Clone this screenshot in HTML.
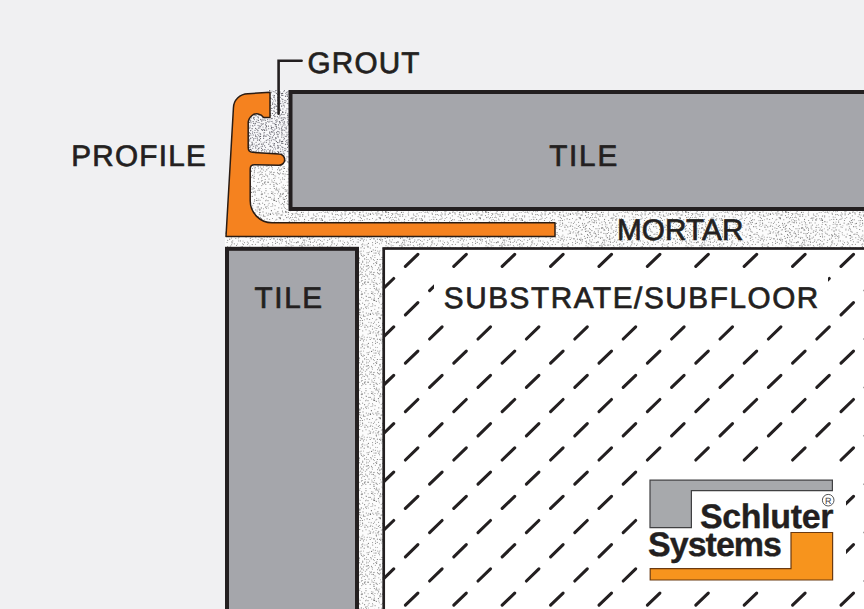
<!DOCTYPE html>
<html><head><meta charset="utf-8"><style>
html,body{margin:0;padding:0;background:#f0f0f2;}
svg{display:block;}
text{text-rendering:geometricPrecision;font-family:"Liberation Sans",sans-serif;fill:#231f20;}
</style></head><body>
<svg width="864" height="609" viewBox="0 0 864 609">
<defs>
<pattern id="st" patternUnits="userSpaceOnUse" width="100" height="100">
<rect width="100" height="100" fill="#fcfcfc"/>
<circle cx="1.1" cy="1.8" r="0.55" fill="#888888"/><circle cx="3.2" cy="-99.6" r="0.6" fill="#888888"/><circle cx="3.2" cy="0.4" r="0.6" fill="#888888"/><circle cx="3.2" cy="100.4" r="0.6" fill="#888888"/><circle cx="5.6" cy="-99.8" r="0.55" fill="#707070"/><circle cx="5.6" cy="0.2" r="0.55" fill="#707070"/><circle cx="5.6" cy="100.2" r="0.55" fill="#707070"/><circle cx="9.4" cy="-99.9" r="0.55" fill="#888888"/><circle cx="9.4" cy="0.1" r="0.55" fill="#888888"/><circle cx="9.4" cy="100.1" r="0.55" fill="#888888"/><circle cx="11.2" cy="-99.7" r="0.5" fill="#9a9a9a"/><circle cx="11.2" cy="0.3" r="0.5" fill="#9a9a9a"/><circle cx="11.2" cy="100.3" r="0.5" fill="#9a9a9a"/><circle cx="17.2" cy="1.6" r="0.55" fill="#888888"/><circle cx="18.4" cy="-99.5" r="0.55" fill="#888888"/><circle cx="18.4" cy="0.5" r="0.55" fill="#888888"/><circle cx="18.4" cy="100.5" r="0.55" fill="#888888"/><circle cx="24.8" cy="1.1" r="0.5" fill="#9a9a9a"/><circle cx="29.0" cy="-99.9" r="0.6" fill="#707070"/><circle cx="29.0" cy="0.1" r="0.6" fill="#707070"/><circle cx="29.0" cy="100.1" r="0.6" fill="#707070"/><circle cx="31.7" cy="-99.2" r="0.5" fill="#9a9a9a"/><circle cx="31.7" cy="0.8" r="0.5" fill="#9a9a9a"/><circle cx="31.7" cy="100.8" r="0.5" fill="#9a9a9a"/><circle cx="36.9" cy="2.0" r="0.55" fill="#888888"/><circle cx="41.6" cy="-99.5" r="0.5" fill="#888888"/><circle cx="41.6" cy="0.5" r="0.5" fill="#888888"/><circle cx="41.6" cy="100.5" r="0.5" fill="#888888"/><circle cx="45.5" cy="-99.8" r="0.5" fill="#9a9a9a"/><circle cx="45.5" cy="0.2" r="0.5" fill="#9a9a9a"/><circle cx="45.5" cy="100.2" r="0.5" fill="#9a9a9a"/><circle cx="50.4" cy="1.1" r="0.55" fill="#9a9a9a"/><circle cx="54.3" cy="1.3" r="0.5" fill="#888888"/><circle cx="56.4" cy="-99.5" r="0.6" fill="#888888"/><circle cx="56.4" cy="0.5" r="0.6" fill="#888888"/><circle cx="56.4" cy="100.5" r="0.6" fill="#888888"/><circle cx="58.0" cy="-99.6" r="0.6" fill="#9a9a9a"/><circle cx="58.0" cy="0.4" r="0.6" fill="#9a9a9a"/><circle cx="58.0" cy="100.4" r="0.6" fill="#9a9a9a"/><circle cx="60.1" cy="-99.7" r="0.55" fill="#888888"/><circle cx="60.1" cy="0.3" r="0.55" fill="#888888"/><circle cx="60.1" cy="100.3" r="0.55" fill="#888888"/><circle cx="65.7" cy="-99.2" r="0.5" fill="#707070"/><circle cx="65.7" cy="0.8" r="0.5" fill="#707070"/><circle cx="65.7" cy="100.8" r="0.5" fill="#707070"/><circle cx="68.0" cy="-99.3" r="0.6" fill="#888888"/><circle cx="68.0" cy="0.7" r="0.6" fill="#888888"/><circle cx="68.0" cy="100.7" r="0.6" fill="#888888"/><circle cx="73.7" cy="-99.7" r="0.55" fill="#707070"/><circle cx="73.7" cy="0.3" r="0.55" fill="#707070"/><circle cx="73.7" cy="100.3" r="0.55" fill="#707070"/><circle cx="74.6" cy="-99.5" r="0.6" fill="#707070"/><circle cx="74.6" cy="0.5" r="0.6" fill="#707070"/><circle cx="74.6" cy="100.5" r="0.6" fill="#707070"/><circle cx="76.3" cy="1.3" r="0.6" fill="#707070"/><circle cx="78.8" cy="-99.0" r="0.5" fill="#888888"/><circle cx="78.8" cy="1.0" r="0.5" fill="#888888"/><circle cx="78.8" cy="101.0" r="0.5" fill="#888888"/><circle cx="84.5" cy="1.5" r="0.55" fill="#888888"/><circle cx="87.8" cy="-99.0" r="0.6" fill="#707070"/><circle cx="87.8" cy="1.0" r="0.6" fill="#707070"/><circle cx="87.8" cy="101.0" r="0.6" fill="#707070"/><circle cx="90.0" cy="-99.7" r="0.55" fill="#9a9a9a"/><circle cx="90.0" cy="0.3" r="0.55" fill="#9a9a9a"/><circle cx="90.0" cy="100.3" r="0.55" fill="#9a9a9a"/><circle cx="91.2" cy="-99.9" r="0.5" fill="#707070"/><circle cx="91.2" cy="0.1" r="0.5" fill="#707070"/><circle cx="91.2" cy="100.1" r="0.5" fill="#707070"/><circle cx="92.1" cy="-99.2" r="0.5" fill="#707070"/><circle cx="92.1" cy="0.8" r="0.5" fill="#707070"/><circle cx="92.1" cy="100.8" r="0.5" fill="#707070"/><circle cx="-0.1" cy="-99.8" r="0.5" fill="#888888"/><circle cx="-0.1" cy="0.2" r="0.5" fill="#888888"/><circle cx="-0.1" cy="100.2" r="0.5" fill="#888888"/><circle cx="99.9" cy="-99.8" r="0.5" fill="#888888"/><circle cx="99.9" cy="0.2" r="0.5" fill="#888888"/><circle cx="99.9" cy="100.2" r="0.5" fill="#888888"/><circle cx="199.9" cy="-99.8" r="0.5" fill="#888888"/><circle cx="199.9" cy="0.2" r="0.5" fill="#888888"/><circle cx="199.9" cy="100.2" r="0.5" fill="#888888"/><circle cx="1.3" cy="3.4" r="0.6" fill="#707070"/><circle cx="3.8" cy="2.9" r="0.55" fill="#9a9a9a"/><circle cx="8.1" cy="2.1" r="0.55" fill="#888888"/><circle cx="14.7" cy="2.1" r="0.6" fill="#9a9a9a"/><circle cx="17.6" cy="3.8" r="0.55" fill="#707070"/><circle cx="19.8" cy="3.7" r="0.55" fill="#707070"/><circle cx="21.1" cy="3.2" r="0.55" fill="#888888"/><circle cx="23.2" cy="2.2" r="0.6" fill="#707070"/><circle cx="25.8" cy="3.5" r="0.55" fill="#9a9a9a"/><circle cx="26.9" cy="2.9" r="0.6" fill="#707070"/><circle cx="29.0" cy="2.6" r="0.5" fill="#888888"/><circle cx="32.2" cy="3.6" r="0.6" fill="#888888"/><circle cx="40.4" cy="2.3" r="0.55" fill="#9a9a9a"/><circle cx="43.0" cy="2.5" r="0.55" fill="#9a9a9a"/><circle cx="47.6" cy="3.5" r="0.5" fill="#707070"/><circle cx="50.6" cy="2.3" r="0.55" fill="#888888"/><circle cx="53.7" cy="3.4" r="0.55" fill="#707070"/><circle cx="57.9" cy="3.7" r="0.55" fill="#9a9a9a"/><circle cx="59.3" cy="3.4" r="0.6" fill="#888888"/><circle cx="62.6" cy="3.2" r="0.6" fill="#9a9a9a"/><circle cx="69.1" cy="3.3" r="0.55" fill="#888888"/><circle cx="72.5" cy="3.6" r="0.5" fill="#9a9a9a"/><circle cx="79.3" cy="2.7" r="0.5" fill="#9a9a9a"/><circle cx="82.5" cy="3.4" r="0.55" fill="#9a9a9a"/><circle cx="84.4" cy="2.5" r="0.55" fill="#9a9a9a"/><circle cx="87.0" cy="3.2" r="0.5" fill="#888888"/><circle cx="89.4" cy="2.4" r="0.55" fill="#9a9a9a"/><circle cx="92.4" cy="3.8" r="0.5" fill="#888888"/><circle cx="95.3" cy="3.0" r="0.55" fill="#888888"/><circle cx="98.2" cy="3.7" r="0.6" fill="#9a9a9a"/><circle cx="11.9" cy="4.5" r="0.6" fill="#707070"/><circle cx="17.1" cy="5.5" r="0.55" fill="#707070"/><circle cx="20.9" cy="4.1" r="0.6" fill="#888888"/><circle cx="23.8" cy="4.9" r="0.6" fill="#9a9a9a"/><circle cx="25.4" cy="4.9" r="0.55" fill="#9a9a9a"/><circle cx="26.2" cy="4.4" r="0.6" fill="#9a9a9a"/><circle cx="31.3" cy="5.0" r="0.6" fill="#888888"/><circle cx="37.8" cy="4.4" r="0.5" fill="#9a9a9a"/><circle cx="39.1" cy="4.4" r="0.6" fill="#707070"/><circle cx="41.2" cy="4.1" r="0.5" fill="#9a9a9a"/><circle cx="43.1" cy="6.0" r="0.5" fill="#888888"/><circle cx="48.9" cy="5.8" r="0.55" fill="#888888"/><circle cx="52.7" cy="5.8" r="0.55" fill="#9a9a9a"/><circle cx="59.9" cy="4.3" r="0.5" fill="#707070"/><circle cx="64.6" cy="4.7" r="0.6" fill="#888888"/><circle cx="68.2" cy="5.0" r="0.55" fill="#9a9a9a"/><circle cx="72.9" cy="4.8" r="0.55" fill="#9a9a9a"/><circle cx="75.1" cy="5.7" r="0.6" fill="#9a9a9a"/><circle cx="81.2" cy="4.3" r="0.6" fill="#9a9a9a"/><circle cx="83.8" cy="4.6" r="0.55" fill="#707070"/><circle cx="87.8" cy="4.3" r="0.5" fill="#707070"/><circle cx="88.5" cy="4.2" r="0.55" fill="#9a9a9a"/><circle cx="90.3" cy="4.8" r="0.6" fill="#707070"/><circle cx="94.7" cy="5.6" r="0.55" fill="#707070"/><circle cx="97.3" cy="4.7" r="0.6" fill="#707070"/><circle cx="99.0" cy="4.0" r="0.6" fill="#9a9a9a"/><circle cx="1.1" cy="6.3" r="0.5" fill="#707070"/><circle cx="6.0" cy="7.9" r="0.5" fill="#9a9a9a"/><circle cx="8.9" cy="7.5" r="0.55" fill="#888888"/><circle cx="11.0" cy="6.9" r="0.6" fill="#888888"/><circle cx="15.7" cy="6.4" r="0.55" fill="#888888"/><circle cx="16.8" cy="6.4" r="0.5" fill="#707070"/><circle cx="18.0" cy="7.8" r="0.6" fill="#9a9a9a"/><circle cx="21.1" cy="6.4" r="0.6" fill="#888888"/><circle cx="22.5" cy="7.8" r="0.6" fill="#9a9a9a"/><circle cx="25.6" cy="6.8" r="0.55" fill="#9a9a9a"/><circle cx="27.5" cy="7.5" r="0.55" fill="#707070"/><circle cx="28.1" cy="6.7" r="0.55" fill="#707070"/><circle cx="35.2" cy="6.5" r="0.6" fill="#888888"/><circle cx="39.1" cy="7.1" r="0.55" fill="#9a9a9a"/><circle cx="41.3" cy="7.4" r="0.55" fill="#9a9a9a"/><circle cx="45.5" cy="6.5" r="0.55" fill="#9a9a9a"/><circle cx="57.1" cy="7.0" r="0.6" fill="#9a9a9a"/><circle cx="58.2" cy="6.9" r="0.6" fill="#707070"/><circle cx="61.3" cy="7.9" r="0.55" fill="#707070"/><circle cx="65.7" cy="7.1" r="0.6" fill="#707070"/><circle cx="67.0" cy="6.6" r="0.55" fill="#9a9a9a"/><circle cx="71.0" cy="6.5" r="0.55" fill="#9a9a9a"/><circle cx="72.6" cy="6.0" r="0.5" fill="#9a9a9a"/><circle cx="78.8" cy="7.8" r="0.6" fill="#888888"/><circle cx="83.9" cy="6.1" r="0.5" fill="#888888"/><circle cx="84.5" cy="7.5" r="0.5" fill="#9a9a9a"/><circle cx="89.8" cy="6.3" r="0.5" fill="#9a9a9a"/><circle cx="90.1" cy="6.8" r="0.5" fill="#707070"/><circle cx="92.7" cy="6.3" r="0.55" fill="#888888"/><circle cx="97.2" cy="7.3" r="0.6" fill="#888888"/><circle cx="1.6" cy="8.3" r="0.55" fill="#9a9a9a"/><circle cx="5.0" cy="8.6" r="0.6" fill="#9a9a9a"/><circle cx="6.5" cy="9.2" r="0.6" fill="#9a9a9a"/><circle cx="8.4" cy="8.6" r="0.5" fill="#707070"/><circle cx="11.0" cy="9.3" r="0.5" fill="#9a9a9a"/><circle cx="19.2" cy="8.2" r="0.6" fill="#888888"/><circle cx="25.1" cy="9.3" r="0.55" fill="#888888"/><circle cx="26.4" cy="8.7" r="0.6" fill="#707070"/><circle cx="28.1" cy="8.2" r="0.6" fill="#707070"/><circle cx="31.5" cy="8.8" r="0.5" fill="#888888"/><circle cx="35.2" cy="8.6" r="0.6" fill="#707070"/><circle cx="36.7" cy="8.2" r="0.55" fill="#707070"/><circle cx="38.9" cy="9.1" r="0.6" fill="#888888"/><circle cx="42.2" cy="8.4" r="0.6" fill="#9a9a9a"/><circle cx="49.4" cy="8.6" r="0.5" fill="#707070"/><circle cx="52.7" cy="8.2" r="0.6" fill="#888888"/><circle cx="55.8" cy="9.9" r="0.55" fill="#888888"/><circle cx="58.0" cy="8.9" r="0.5" fill="#888888"/><circle cx="59.5" cy="9.0" r="0.5" fill="#888888"/><circle cx="60.0" cy="9.4" r="0.6" fill="#888888"/><circle cx="63.5" cy="8.7" r="0.55" fill="#9a9a9a"/><circle cx="66.4" cy="8.2" r="0.55" fill="#888888"/><circle cx="68.4" cy="8.1" r="0.5" fill="#9a9a9a"/><circle cx="74.8" cy="9.2" r="0.55" fill="#9a9a9a"/><circle cx="81.8" cy="8.2" r="0.6" fill="#9a9a9a"/><circle cx="85.3" cy="8.5" r="0.5" fill="#888888"/><circle cx="87.0" cy="9.5" r="0.55" fill="#888888"/><circle cx="91.3" cy="9.0" r="0.6" fill="#9a9a9a"/><circle cx="94.1" cy="9.5" r="0.6" fill="#888888"/><circle cx="97.6" cy="9.7" r="0.55" fill="#9a9a9a"/><circle cx="-1.0" cy="9.4" r="0.5" fill="#888888"/><circle cx="99.0" cy="9.4" r="0.5" fill="#888888"/><circle cx="199.0" cy="9.4" r="0.5" fill="#888888"/><circle cx="1.8" cy="10.5" r="0.5" fill="#9a9a9a"/><circle cx="8.6" cy="11.9" r="0.5" fill="#888888"/><circle cx="15.6" cy="10.4" r="0.5" fill="#888888"/><circle cx="19.6" cy="10.6" r="0.5" fill="#707070"/><circle cx="23.2" cy="10.9" r="0.6" fill="#707070"/><circle cx="25.8" cy="10.8" r="0.55" fill="#9a9a9a"/><circle cx="27.6" cy="11.0" r="0.55" fill="#888888"/><circle cx="29.8" cy="10.7" r="0.6" fill="#707070"/><circle cx="30.4" cy="10.1" r="0.5" fill="#888888"/><circle cx="33.6" cy="11.5" r="0.5" fill="#9a9a9a"/><circle cx="35.8" cy="11.7" r="0.55" fill="#888888"/><circle cx="37.4" cy="11.2" r="0.5" fill="#888888"/><circle cx="45.0" cy="11.3" r="0.6" fill="#888888"/><circle cx="46.1" cy="11.1" r="0.5" fill="#707070"/><circle cx="50.3" cy="10.3" r="0.55" fill="#888888"/><circle cx="53.1" cy="11.8" r="0.6" fill="#888888"/><circle cx="57.1" cy="11.0" r="0.5" fill="#707070"/><circle cx="59.8" cy="10.2" r="0.55" fill="#707070"/><circle cx="63.0" cy="11.9" r="0.55" fill="#888888"/><circle cx="71.4" cy="10.7" r="0.6" fill="#707070"/><circle cx="77.9" cy="11.7" r="0.6" fill="#888888"/><circle cx="82.5" cy="11.1" r="0.55" fill="#707070"/><circle cx="85.7" cy="11.4" r="0.6" fill="#707070"/><circle cx="90.6" cy="10.7" r="0.55" fill="#9a9a9a"/><circle cx="92.5" cy="10.4" r="0.6" fill="#707070"/><circle cx="97.1" cy="11.4" r="0.55" fill="#888888"/><circle cx="98.2" cy="10.3" r="0.5" fill="#707070"/><circle cx="1.4" cy="12.4" r="0.55" fill="#707070"/><circle cx="3.2" cy="12.2" r="0.5" fill="#707070"/><circle cx="8.1" cy="13.8" r="0.55" fill="#9a9a9a"/><circle cx="17.0" cy="13.8" r="0.6" fill="#707070"/><circle cx="19.2" cy="12.6" r="0.5" fill="#9a9a9a"/><circle cx="21.1" cy="12.5" r="0.5" fill="#888888"/><circle cx="25.1" cy="12.4" r="0.55" fill="#888888"/><circle cx="27.2" cy="12.3" r="0.6" fill="#888888"/><circle cx="28.7" cy="13.0" r="0.5" fill="#9a9a9a"/><circle cx="32.0" cy="13.0" r="0.6" fill="#9a9a9a"/><circle cx="32.4" cy="13.9" r="0.6" fill="#9a9a9a"/><circle cx="41.4" cy="12.7" r="0.55" fill="#888888"/><circle cx="42.2" cy="13.9" r="0.5" fill="#707070"/><circle cx="45.1" cy="13.1" r="0.6" fill="#888888"/><circle cx="49.8" cy="12.7" r="0.5" fill="#707070"/><circle cx="50.0" cy="13.4" r="0.55" fill="#707070"/><circle cx="52.7" cy="12.3" r="0.6" fill="#9a9a9a"/><circle cx="54.9" cy="12.8" r="0.6" fill="#707070"/><circle cx="59.5" cy="12.8" r="0.6" fill="#9a9a9a"/><circle cx="60.0" cy="12.4" r="0.55" fill="#707070"/><circle cx="66.3" cy="13.0" r="0.55" fill="#707070"/><circle cx="68.7" cy="13.3" r="0.5" fill="#9a9a9a"/><circle cx="70.3" cy="13.9" r="0.6" fill="#707070"/><circle cx="72.8" cy="13.2" r="0.6" fill="#9a9a9a"/><circle cx="75.5" cy="13.0" r="0.55" fill="#9a9a9a"/><circle cx="76.9" cy="13.1" r="0.6" fill="#888888"/><circle cx="78.9" cy="13.8" r="0.55" fill="#707070"/><circle cx="82.9" cy="12.8" r="0.55" fill="#888888"/><circle cx="85.8" cy="12.5" r="0.55" fill="#707070"/><circle cx="86.8" cy="12.1" r="0.6" fill="#707070"/><circle cx="88.5" cy="12.6" r="0.55" fill="#707070"/><circle cx="92.0" cy="13.5" r="0.6" fill="#888888"/><circle cx="92.8" cy="13.6" r="0.5" fill="#9a9a9a"/><circle cx="95.1" cy="13.8" r="0.5" fill="#9a9a9a"/><circle cx="96.2" cy="13.1" r="0.55" fill="#707070"/><circle cx="-100.0" cy="14.3" r="0.55" fill="#888888"/><circle cx="0.0" cy="14.3" r="0.55" fill="#888888"/><circle cx="100.0" cy="14.3" r="0.55" fill="#888888"/><circle cx="2.8" cy="14.7" r="0.6" fill="#707070"/><circle cx="8.6" cy="15.0" r="0.55" fill="#707070"/><circle cx="13.4" cy="14.1" r="0.55" fill="#888888"/><circle cx="14.0" cy="15.3" r="0.6" fill="#9a9a9a"/><circle cx="18.4" cy="15.8" r="0.5" fill="#9a9a9a"/><circle cx="22.6" cy="15.8" r="0.55" fill="#9a9a9a"/><circle cx="24.7" cy="15.9" r="0.55" fill="#888888"/><circle cx="32.4" cy="14.4" r="0.5" fill="#9a9a9a"/><circle cx="35.6" cy="14.7" r="0.6" fill="#9a9a9a"/><circle cx="37.2" cy="14.5" r="0.55" fill="#707070"/><circle cx="38.6" cy="15.3" r="0.5" fill="#888888"/><circle cx="40.9" cy="15.1" r="0.6" fill="#707070"/><circle cx="45.1" cy="14.8" r="0.6" fill="#707070"/><circle cx="48.4" cy="14.4" r="0.6" fill="#9a9a9a"/><circle cx="52.3" cy="15.8" r="0.6" fill="#888888"/><circle cx="55.2" cy="14.0" r="0.55" fill="#707070"/><circle cx="59.3" cy="14.7" r="0.6" fill="#888888"/><circle cx="61.0" cy="15.0" r="0.6" fill="#9a9a9a"/><circle cx="63.5" cy="15.1" r="0.6" fill="#707070"/><circle cx="67.3" cy="15.1" r="0.55" fill="#9a9a9a"/><circle cx="68.5" cy="15.0" r="0.5" fill="#9a9a9a"/><circle cx="70.5" cy="14.4" r="0.6" fill="#707070"/><circle cx="73.7" cy="14.4" r="0.5" fill="#9a9a9a"/><circle cx="76.9" cy="14.9" r="0.55" fill="#707070"/><circle cx="81.1" cy="15.1" r="0.6" fill="#707070"/><circle cx="82.1" cy="14.9" r="0.6" fill="#888888"/><circle cx="85.5" cy="15.6" r="0.6" fill="#888888"/><circle cx="88.3" cy="14.5" r="0.5" fill="#888888"/><circle cx="91.7" cy="15.6" r="0.5" fill="#888888"/><circle cx="92.7" cy="14.4" r="0.5" fill="#707070"/><circle cx="95.5" cy="16.0" r="0.5" fill="#9a9a9a"/><circle cx="97.5" cy="14.1" r="0.5" fill="#888888"/><circle cx="98.3" cy="14.8" r="0.55" fill="#888888"/><circle cx="-99.8" cy="16.1" r="0.6" fill="#9a9a9a"/><circle cx="0.2" cy="16.1" r="0.6" fill="#9a9a9a"/><circle cx="100.2" cy="16.1" r="0.6" fill="#9a9a9a"/><circle cx="2.6" cy="16.2" r="0.5" fill="#888888"/><circle cx="5.9" cy="16.7" r="0.55" fill="#9a9a9a"/><circle cx="12.0" cy="17.5" r="0.6" fill="#9a9a9a"/><circle cx="13.8" cy="17.8" r="0.5" fill="#888888"/><circle cx="15.9" cy="16.4" r="0.55" fill="#707070"/><circle cx="22.3" cy="16.4" r="0.5" fill="#9a9a9a"/><circle cx="24.6" cy="16.9" r="0.6" fill="#9a9a9a"/><circle cx="29.1" cy="16.8" r="0.5" fill="#9a9a9a"/><circle cx="33.2" cy="17.0" r="0.6" fill="#888888"/><circle cx="35.1" cy="17.3" r="0.5" fill="#888888"/><circle cx="41.6" cy="16.3" r="0.5" fill="#9a9a9a"/><circle cx="42.2" cy="18.0" r="0.55" fill="#888888"/><circle cx="46.7" cy="17.5" r="0.6" fill="#9a9a9a"/><circle cx="58.1" cy="16.6" r="0.55" fill="#888888"/><circle cx="60.3" cy="17.4" r="0.55" fill="#888888"/><circle cx="63.3" cy="16.3" r="0.5" fill="#888888"/><circle cx="64.9" cy="16.3" r="0.6" fill="#888888"/><circle cx="79.1" cy="17.6" r="0.6" fill="#888888"/><circle cx="80.1" cy="17.7" r="0.6" fill="#9a9a9a"/><circle cx="86.7" cy="17.6" r="0.55" fill="#707070"/><circle cx="88.2" cy="17.0" r="0.55" fill="#888888"/><circle cx="90.6" cy="17.4" r="0.5" fill="#707070"/><circle cx="92.4" cy="17.5" r="0.55" fill="#9a9a9a"/><circle cx="95.0" cy="17.5" r="0.55" fill="#707070"/><circle cx="96.5" cy="17.7" r="0.55" fill="#9a9a9a"/><circle cx="-0.2" cy="16.2" r="0.5" fill="#888888"/><circle cx="99.8" cy="16.2" r="0.5" fill="#888888"/><circle cx="199.8" cy="16.2" r="0.5" fill="#888888"/><circle cx="4.6" cy="19.4" r="0.55" fill="#707070"/><circle cx="11.1" cy="18.5" r="0.6" fill="#707070"/><circle cx="12.8" cy="18.7" r="0.55" fill="#707070"/><circle cx="15.9" cy="19.5" r="0.6" fill="#707070"/><circle cx="16.8" cy="18.8" r="0.55" fill="#707070"/><circle cx="19.8" cy="18.8" r="0.55" fill="#707070"/><circle cx="21.4" cy="18.5" r="0.55" fill="#888888"/><circle cx="22.0" cy="19.2" r="0.55" fill="#707070"/><circle cx="29.9" cy="20.0" r="0.5" fill="#707070"/><circle cx="31.7" cy="19.5" r="0.5" fill="#9a9a9a"/><circle cx="33.8" cy="19.4" r="0.55" fill="#888888"/><circle cx="36.6" cy="19.4" r="0.6" fill="#888888"/><circle cx="39.9" cy="19.6" r="0.5" fill="#888888"/><circle cx="41.0" cy="19.1" r="0.55" fill="#888888"/><circle cx="45.1" cy="18.5" r="0.5" fill="#888888"/><circle cx="50.3" cy="18.1" r="0.5" fill="#707070"/><circle cx="52.6" cy="19.7" r="0.6" fill="#9a9a9a"/><circle cx="54.3" cy="19.7" r="0.55" fill="#707070"/><circle cx="61.4" cy="18.5" r="0.6" fill="#888888"/><circle cx="64.4" cy="19.7" r="0.5" fill="#9a9a9a"/><circle cx="67.1" cy="18.8" r="0.6" fill="#707070"/><circle cx="69.7" cy="19.6" r="0.5" fill="#707070"/><circle cx="72.5" cy="18.4" r="0.5" fill="#888888"/><circle cx="75.9" cy="19.9" r="0.5" fill="#888888"/><circle cx="76.8" cy="19.3" r="0.55" fill="#888888"/><circle cx="80.0" cy="18.1" r="0.6" fill="#707070"/><circle cx="80.4" cy="18.7" r="0.6" fill="#707070"/><circle cx="83.8" cy="19.7" r="0.55" fill="#707070"/><circle cx="89.7" cy="18.6" r="0.55" fill="#9a9a9a"/><circle cx="91.5" cy="20.0" r="0.55" fill="#9a9a9a"/><circle cx="93.1" cy="19.6" r="0.5" fill="#888888"/><circle cx="98.5" cy="19.0" r="0.5" fill="#707070"/><circle cx="4.3" cy="21.3" r="0.55" fill="#888888"/><circle cx="8.7" cy="20.5" r="0.5" fill="#707070"/><circle cx="12.6" cy="20.2" r="0.5" fill="#888888"/><circle cx="16.0" cy="20.4" r="0.55" fill="#888888"/><circle cx="21.1" cy="20.4" r="0.6" fill="#9a9a9a"/><circle cx="22.5" cy="20.4" r="0.55" fill="#707070"/><circle cx="24.9" cy="21.7" r="0.6" fill="#707070"/><circle cx="38.6" cy="21.0" r="0.5" fill="#707070"/><circle cx="44.5" cy="20.5" r="0.6" fill="#888888"/><circle cx="49.7" cy="21.5" r="0.5" fill="#888888"/><circle cx="51.4" cy="20.5" r="0.6" fill="#707070"/><circle cx="59.0" cy="20.6" r="0.55" fill="#9a9a9a"/><circle cx="60.7" cy="20.6" r="0.6" fill="#888888"/><circle cx="62.5" cy="20.4" r="0.5" fill="#707070"/><circle cx="89.7" cy="21.5" r="0.5" fill="#707070"/><circle cx="92.2" cy="22.0" r="0.55" fill="#888888"/><circle cx="94.4" cy="20.8" r="0.6" fill="#707070"/><circle cx="96.1" cy="20.8" r="0.55" fill="#707070"/><circle cx="-0.9" cy="20.0" r="0.6" fill="#9a9a9a"/><circle cx="99.1" cy="20.0" r="0.6" fill="#9a9a9a"/><circle cx="199.1" cy="20.0" r="0.6" fill="#9a9a9a"/><circle cx="1.8" cy="22.1" r="0.6" fill="#9a9a9a"/><circle cx="5.4" cy="22.8" r="0.6" fill="#707070"/><circle cx="9.5" cy="22.9" r="0.55" fill="#888888"/><circle cx="11.0" cy="22.8" r="0.6" fill="#9a9a9a"/><circle cx="15.1" cy="22.9" r="0.55" fill="#9a9a9a"/><circle cx="22.7" cy="22.5" r="0.6" fill="#888888"/><circle cx="27.1" cy="22.1" r="0.5" fill="#888888"/><circle cx="33.6" cy="22.3" r="0.5" fill="#707070"/><circle cx="36.0" cy="22.1" r="0.5" fill="#9a9a9a"/><circle cx="38.7" cy="22.4" r="0.5" fill="#888888"/><circle cx="44.1" cy="23.1" r="0.55" fill="#707070"/><circle cx="48.1" cy="23.7" r="0.5" fill="#707070"/><circle cx="50.4" cy="22.7" r="0.55" fill="#707070"/><circle cx="52.2" cy="22.4" r="0.55" fill="#707070"/><circle cx="55.2" cy="23.8" r="0.5" fill="#707070"/><circle cx="56.4" cy="23.3" r="0.6" fill="#707070"/><circle cx="60.0" cy="22.8" r="0.55" fill="#9a9a9a"/><circle cx="62.6" cy="23.2" r="0.6" fill="#707070"/><circle cx="68.9" cy="22.3" r="0.5" fill="#888888"/><circle cx="71.2" cy="22.7" r="0.5" fill="#707070"/><circle cx="73.4" cy="23.5" r="0.55" fill="#888888"/><circle cx="74.4" cy="22.1" r="0.55" fill="#888888"/><circle cx="78.6" cy="22.3" r="0.5" fill="#707070"/><circle cx="82.5" cy="23.2" r="0.55" fill="#707070"/><circle cx="84.6" cy="23.7" r="0.6" fill="#9a9a9a"/><circle cx="87.9" cy="22.8" r="0.6" fill="#888888"/><circle cx="88.9" cy="22.1" r="0.55" fill="#888888"/><circle cx="93.9" cy="22.6" r="0.6" fill="#707070"/><circle cx="94.5" cy="22.8" r="0.5" fill="#9a9a9a"/><circle cx="96.5" cy="22.8" r="0.55" fill="#707070"/><circle cx="-0.3" cy="23.2" r="0.6" fill="#9a9a9a"/><circle cx="99.7" cy="23.2" r="0.6" fill="#9a9a9a"/><circle cx="199.7" cy="23.2" r="0.6" fill="#9a9a9a"/><circle cx="2.2" cy="24.7" r="0.55" fill="#707070"/><circle cx="5.3" cy="24.7" r="0.5" fill="#9a9a9a"/><circle cx="6.9" cy="24.7" r="0.55" fill="#9a9a9a"/><circle cx="11.2" cy="25.9" r="0.5" fill="#888888"/><circle cx="12.5" cy="25.1" r="0.5" fill="#707070"/><circle cx="16.8" cy="25.3" r="0.5" fill="#9a9a9a"/><circle cx="18.4" cy="24.7" r="0.5" fill="#9a9a9a"/><circle cx="22.2" cy="24.3" r="0.6" fill="#9a9a9a"/><circle cx="25.5" cy="24.5" r="0.6" fill="#888888"/><circle cx="26.2" cy="24.9" r="0.5" fill="#888888"/><circle cx="29.9" cy="25.8" r="0.5" fill="#707070"/><circle cx="33.1" cy="24.2" r="0.5" fill="#888888"/><circle cx="35.1" cy="24.1" r="0.5" fill="#707070"/><circle cx="37.0" cy="24.6" r="0.55" fill="#707070"/><circle cx="40.1" cy="24.4" r="0.55" fill="#707070"/><circle cx="42.9" cy="25.7" r="0.5" fill="#9a9a9a"/><circle cx="47.0" cy="24.8" r="0.6" fill="#9a9a9a"/><circle cx="48.8" cy="24.0" r="0.5" fill="#707070"/><circle cx="51.4" cy="24.3" r="0.6" fill="#9a9a9a"/><circle cx="59.3" cy="25.7" r="0.5" fill="#888888"/><circle cx="60.2" cy="24.5" r="0.5" fill="#9a9a9a"/><circle cx="62.7" cy="25.0" r="0.6" fill="#9a9a9a"/><circle cx="65.1" cy="25.0" r="0.5" fill="#888888"/><circle cx="66.5" cy="25.2" r="0.5" fill="#888888"/><circle cx="70.8" cy="25.3" r="0.55" fill="#888888"/><circle cx="76.3" cy="24.8" r="0.55" fill="#888888"/><circle cx="79.4" cy="25.4" r="0.5" fill="#888888"/><circle cx="83.0" cy="25.1" r="0.6" fill="#707070"/><circle cx="86.2" cy="25.4" r="0.55" fill="#707070"/><circle cx="90.7" cy="24.6" r="0.6" fill="#9a9a9a"/><circle cx="98.7" cy="25.7" r="0.5" fill="#888888"/><circle cx="1.6" cy="27.9" r="0.6" fill="#888888"/><circle cx="2.6" cy="27.4" r="0.5" fill="#888888"/><circle cx="5.7" cy="26.7" r="0.55" fill="#707070"/><circle cx="7.6" cy="27.3" r="0.5" fill="#888888"/><circle cx="11.1" cy="27.9" r="0.6" fill="#9a9a9a"/><circle cx="15.5" cy="27.2" r="0.5" fill="#9a9a9a"/><circle cx="16.7" cy="27.3" r="0.5" fill="#707070"/><circle cx="18.9" cy="27.5" r="0.55" fill="#888888"/><circle cx="21.6" cy="26.9" r="0.6" fill="#9a9a9a"/><circle cx="27.3" cy="27.1" r="0.5" fill="#9a9a9a"/><circle cx="33.1" cy="27.8" r="0.5" fill="#707070"/><circle cx="35.1" cy="27.7" r="0.5" fill="#707070"/><circle cx="36.9" cy="26.1" r="0.55" fill="#888888"/><circle cx="41.0" cy="26.9" r="0.55" fill="#9a9a9a"/><circle cx="42.2" cy="27.5" r="0.5" fill="#9a9a9a"/><circle cx="49.3" cy="26.8" r="0.6" fill="#9a9a9a"/><circle cx="53.7" cy="26.7" r="0.6" fill="#707070"/><circle cx="56.0" cy="26.7" r="0.6" fill="#888888"/><circle cx="61.1" cy="26.5" r="0.5" fill="#888888"/><circle cx="64.9" cy="27.2" r="0.6" fill="#707070"/><circle cx="67.8" cy="26.9" r="0.55" fill="#707070"/><circle cx="70.2" cy="26.6" r="0.5" fill="#707070"/><circle cx="72.7" cy="26.3" r="0.55" fill="#888888"/><circle cx="74.9" cy="27.9" r="0.55" fill="#888888"/><circle cx="78.4" cy="26.4" r="0.6" fill="#9a9a9a"/><circle cx="80.2" cy="27.5" r="0.6" fill="#707070"/><circle cx="83.8" cy="27.4" r="0.55" fill="#707070"/><circle cx="85.4" cy="26.6" r="0.6" fill="#888888"/><circle cx="93.3" cy="26.6" r="0.6" fill="#707070"/><circle cx="1.9" cy="28.3" r="0.55" fill="#707070"/><circle cx="3.1" cy="28.3" r="0.5" fill="#9a9a9a"/><circle cx="4.3" cy="29.5" r="0.6" fill="#9a9a9a"/><circle cx="6.5" cy="28.1" r="0.55" fill="#9a9a9a"/><circle cx="8.5" cy="28.9" r="0.55" fill="#888888"/><circle cx="11.9" cy="29.0" r="0.6" fill="#9a9a9a"/><circle cx="16.2" cy="29.9" r="0.6" fill="#9a9a9a"/><circle cx="20.2" cy="29.1" r="0.5" fill="#707070"/><circle cx="22.6" cy="29.7" r="0.5" fill="#9a9a9a"/><circle cx="24.3" cy="28.8" r="0.5" fill="#9a9a9a"/><circle cx="27.9" cy="29.8" r="0.6" fill="#707070"/><circle cx="29.4" cy="28.2" r="0.6" fill="#888888"/><circle cx="31.9" cy="29.8" r="0.5" fill="#888888"/><circle cx="36.1" cy="29.9" r="0.6" fill="#707070"/><circle cx="45.9" cy="30.0" r="0.5" fill="#888888"/><circle cx="46.0" cy="29.0" r="0.6" fill="#9a9a9a"/><circle cx="49.8" cy="28.6" r="0.5" fill="#707070"/><circle cx="50.3" cy="29.8" r="0.5" fill="#707070"/><circle cx="56.8" cy="28.3" r="0.5" fill="#9a9a9a"/><circle cx="59.7" cy="29.5" r="0.6" fill="#707070"/><circle cx="66.0" cy="29.7" r="0.55" fill="#888888"/><circle cx="72.5" cy="29.2" r="0.6" fill="#9a9a9a"/><circle cx="76.9" cy="28.5" r="0.55" fill="#707070"/><circle cx="82.4" cy="29.8" r="0.5" fill="#707070"/><circle cx="85.2" cy="29.2" r="0.6" fill="#888888"/><circle cx="86.0" cy="28.6" r="0.5" fill="#888888"/><circle cx="89.5" cy="28.4" r="0.5" fill="#707070"/><circle cx="90.2" cy="29.5" r="0.5" fill="#888888"/><circle cx="96.0" cy="28.7" r="0.55" fill="#707070"/><circle cx="98.0" cy="28.8" r="0.5" fill="#888888"/><circle cx="-0.4" cy="28.7" r="0.5" fill="#888888"/><circle cx="99.6" cy="28.7" r="0.5" fill="#888888"/><circle cx="199.6" cy="28.7" r="0.5" fill="#888888"/><circle cx="1.1" cy="31.9" r="0.5" fill="#888888"/><circle cx="3.8" cy="30.1" r="0.5" fill="#888888"/><circle cx="4.8" cy="30.3" r="0.5" fill="#707070"/><circle cx="8.5" cy="30.6" r="0.5" fill="#707070"/><circle cx="13.9" cy="30.4" r="0.5" fill="#9a9a9a"/><circle cx="15.8" cy="31.5" r="0.6" fill="#888888"/><circle cx="19.8" cy="30.3" r="0.5" fill="#707070"/><circle cx="21.4" cy="30.2" r="0.55" fill="#707070"/><circle cx="22.5" cy="31.0" r="0.6" fill="#888888"/><circle cx="25.1" cy="31.9" r="0.5" fill="#9a9a9a"/><circle cx="33.8" cy="31.0" r="0.5" fill="#888888"/><circle cx="34.2" cy="31.0" r="0.6" fill="#888888"/><circle cx="39.0" cy="30.1" r="0.5" fill="#888888"/><circle cx="40.0" cy="31.5" r="0.55" fill="#9a9a9a"/><circle cx="48.4" cy="30.0" r="0.5" fill="#888888"/><circle cx="51.0" cy="31.3" r="0.55" fill="#707070"/><circle cx="62.7" cy="30.9" r="0.6" fill="#9a9a9a"/><circle cx="69.2" cy="30.8" r="0.6" fill="#9a9a9a"/><circle cx="70.7" cy="31.8" r="0.5" fill="#9a9a9a"/><circle cx="73.7" cy="31.8" r="0.5" fill="#888888"/><circle cx="76.0" cy="30.6" r="0.5" fill="#9a9a9a"/><circle cx="78.8" cy="31.4" r="0.55" fill="#888888"/><circle cx="81.3" cy="30.0" r="0.55" fill="#9a9a9a"/><circle cx="85.6" cy="31.3" r="0.6" fill="#707070"/><circle cx="86.8" cy="31.0" r="0.6" fill="#9a9a9a"/><circle cx="88.2" cy="31.0" r="0.55" fill="#707070"/><circle cx="91.9" cy="30.6" r="0.55" fill="#707070"/><circle cx="94.5" cy="31.7" r="0.5" fill="#888888"/><circle cx="98.2" cy="30.7" r="0.5" fill="#707070"/><circle cx="-99.0" cy="32.6" r="0.6" fill="#9a9a9a"/><circle cx="1.0" cy="32.6" r="0.6" fill="#9a9a9a"/><circle cx="101.0" cy="32.6" r="0.6" fill="#9a9a9a"/><circle cx="3.9" cy="33.3" r="0.6" fill="#888888"/><circle cx="6.0" cy="33.8" r="0.6" fill="#707070"/><circle cx="7.4" cy="33.6" r="0.5" fill="#707070"/><circle cx="8.6" cy="32.5" r="0.5" fill="#9a9a9a"/><circle cx="10.9" cy="33.3" r="0.6" fill="#888888"/><circle cx="13.3" cy="32.1" r="0.6" fill="#707070"/><circle cx="17.7" cy="32.6" r="0.5" fill="#9a9a9a"/><circle cx="19.5" cy="34.0" r="0.6" fill="#9a9a9a"/><circle cx="22.1" cy="33.7" r="0.55" fill="#707070"/><circle cx="25.9" cy="33.3" r="0.55" fill="#707070"/><circle cx="34.5" cy="33.3" r="0.5" fill="#9a9a9a"/><circle cx="38.9" cy="33.4" r="0.5" fill="#9a9a9a"/><circle cx="42.2" cy="32.7" r="0.5" fill="#707070"/><circle cx="47.2" cy="33.9" r="0.5" fill="#888888"/><circle cx="52.1" cy="32.2" r="0.6" fill="#9a9a9a"/><circle cx="57.1" cy="32.6" r="0.6" fill="#888888"/><circle cx="69.9" cy="33.3" r="0.55" fill="#707070"/><circle cx="70.5" cy="32.9" r="0.5" fill="#707070"/><circle cx="73.0" cy="32.8" r="0.6" fill="#9a9a9a"/><circle cx="75.8" cy="33.0" r="0.55" fill="#9a9a9a"/><circle cx="78.0" cy="33.1" r="0.5" fill="#707070"/><circle cx="78.1" cy="32.3" r="0.6" fill="#888888"/><circle cx="81.2" cy="33.9" r="0.55" fill="#9a9a9a"/><circle cx="89.9" cy="32.4" r="0.55" fill="#707070"/><circle cx="90.0" cy="32.9" r="0.6" fill="#888888"/><circle cx="94.0" cy="33.0" r="0.6" fill="#707070"/><circle cx="95.3" cy="33.4" r="0.6" fill="#888888"/><circle cx="98.3" cy="32.1" r="0.55" fill="#888888"/><circle cx="6.2" cy="35.9" r="0.6" fill="#888888"/><circle cx="9.7" cy="35.9" r="0.6" fill="#707070"/><circle cx="15.4" cy="35.2" r="0.6" fill="#888888"/><circle cx="16.4" cy="34.1" r="0.5" fill="#9a9a9a"/><circle cx="22.4" cy="34.9" r="0.5" fill="#9a9a9a"/><circle cx="27.2" cy="34.2" r="0.6" fill="#888888"/><circle cx="29.1" cy="35.3" r="0.6" fill="#9a9a9a"/><circle cx="31.6" cy="34.8" r="0.6" fill="#707070"/><circle cx="32.6" cy="35.4" r="0.6" fill="#9a9a9a"/><circle cx="34.9" cy="34.4" r="0.55" fill="#707070"/><circle cx="36.2" cy="35.2" r="0.6" fill="#888888"/><circle cx="38.8" cy="35.7" r="0.55" fill="#888888"/><circle cx="42.4" cy="34.8" r="0.5" fill="#9a9a9a"/><circle cx="44.1" cy="35.2" r="0.5" fill="#9a9a9a"/><circle cx="49.4" cy="35.5" r="0.6" fill="#888888"/><circle cx="50.5" cy="35.4" r="0.6" fill="#888888"/><circle cx="54.0" cy="34.3" r="0.6" fill="#888888"/><circle cx="55.0" cy="34.0" r="0.6" fill="#888888"/><circle cx="57.0" cy="34.3" r="0.6" fill="#888888"/><circle cx="58.6" cy="35.6" r="0.55" fill="#9a9a9a"/><circle cx="62.9" cy="35.1" r="0.55" fill="#9a9a9a"/><circle cx="68.1" cy="34.0" r="0.6" fill="#9a9a9a"/><circle cx="76.3" cy="35.2" r="0.6" fill="#707070"/><circle cx="78.8" cy="34.8" r="0.55" fill="#9a9a9a"/><circle cx="81.9" cy="34.5" r="0.5" fill="#707070"/><circle cx="87.5" cy="34.5" r="0.55" fill="#707070"/><circle cx="88.1" cy="35.6" r="0.55" fill="#707070"/><circle cx="90.7" cy="34.6" r="0.5" fill="#888888"/><circle cx="92.1" cy="35.8" r="0.6" fill="#888888"/><circle cx="96.0" cy="34.4" r="0.5" fill="#9a9a9a"/><circle cx="96.3" cy="35.9" r="0.55" fill="#888888"/><circle cx="98.4" cy="34.4" r="0.6" fill="#9a9a9a"/><circle cx="-99.1" cy="37.2" r="0.55" fill="#707070"/><circle cx="0.9" cy="37.2" r="0.55" fill="#707070"/><circle cx="100.9" cy="37.2" r="0.55" fill="#707070"/><circle cx="2.6" cy="37.7" r="0.55" fill="#888888"/><circle cx="7.3" cy="37.7" r="0.6" fill="#707070"/><circle cx="9.4" cy="37.9" r="0.5" fill="#707070"/><circle cx="13.5" cy="37.0" r="0.6" fill="#888888"/><circle cx="20.4" cy="36.5" r="0.6" fill="#707070"/><circle cx="22.6" cy="36.9" r="0.55" fill="#707070"/><circle cx="24.7" cy="36.7" r="0.5" fill="#888888"/><circle cx="32.3" cy="36.3" r="0.5" fill="#707070"/><circle cx="35.0" cy="36.6" r="0.6" fill="#9a9a9a"/><circle cx="37.4" cy="36.5" r="0.55" fill="#888888"/><circle cx="38.9" cy="37.1" r="0.6" fill="#707070"/><circle cx="46.1" cy="36.9" r="0.6" fill="#707070"/><circle cx="51.1" cy="36.9" r="0.55" fill="#9a9a9a"/><circle cx="52.2" cy="37.0" r="0.5" fill="#9a9a9a"/><circle cx="55.8" cy="37.7" r="0.5" fill="#707070"/><circle cx="59.1" cy="37.0" r="0.55" fill="#707070"/><circle cx="61.0" cy="38.0" r="0.5" fill="#9a9a9a"/><circle cx="62.0" cy="36.3" r="0.55" fill="#9a9a9a"/><circle cx="64.2" cy="37.1" r="0.55" fill="#9a9a9a"/><circle cx="67.2" cy="37.2" r="0.5" fill="#707070"/><circle cx="69.8" cy="37.3" r="0.5" fill="#888888"/><circle cx="71.6" cy="38.0" r="0.6" fill="#9a9a9a"/><circle cx="76.4" cy="36.1" r="0.55" fill="#888888"/><circle cx="81.0" cy="38.0" r="0.5" fill="#888888"/><circle cx="84.4" cy="36.3" r="0.55" fill="#707070"/><circle cx="87.4" cy="37.6" r="0.6" fill="#707070"/><circle cx="89.8" cy="37.3" r="0.55" fill="#888888"/><circle cx="91.5" cy="36.6" r="0.5" fill="#9a9a9a"/><circle cx="95.7" cy="36.6" r="0.6" fill="#888888"/><circle cx="98.8" cy="37.3" r="0.5" fill="#707070"/><circle cx="-99.5" cy="38.4" r="0.5" fill="#707070"/><circle cx="0.5" cy="38.4" r="0.5" fill="#707070"/><circle cx="100.5" cy="38.4" r="0.5" fill="#707070"/><circle cx="4.8" cy="39.9" r="0.6" fill="#9a9a9a"/><circle cx="9.3" cy="39.4" r="0.6" fill="#888888"/><circle cx="10.1" cy="39.0" r="0.55" fill="#707070"/><circle cx="12.1" cy="38.1" r="0.6" fill="#888888"/><circle cx="14.8" cy="39.9" r="0.6" fill="#9a9a9a"/><circle cx="19.0" cy="39.5" r="0.6" fill="#9a9a9a"/><circle cx="24.2" cy="39.7" r="0.5" fill="#707070"/><circle cx="29.7" cy="39.2" r="0.6" fill="#707070"/><circle cx="31.4" cy="38.1" r="0.5" fill="#707070"/><circle cx="35.8" cy="38.5" r="0.6" fill="#888888"/><circle cx="38.3" cy="38.7" r="0.5" fill="#9a9a9a"/><circle cx="50.3" cy="38.3" r="0.6" fill="#888888"/><circle cx="52.8" cy="39.5" r="0.5" fill="#888888"/><circle cx="58.1" cy="39.6" r="0.5" fill="#888888"/><circle cx="61.2" cy="38.8" r="0.6" fill="#888888"/><circle cx="62.3" cy="38.8" r="0.6" fill="#888888"/><circle cx="64.2" cy="39.3" r="0.55" fill="#888888"/><circle cx="70.2" cy="39.5" r="0.6" fill="#707070"/><circle cx="73.7" cy="38.7" r="0.55" fill="#707070"/><circle cx="74.2" cy="38.8" r="0.6" fill="#888888"/><circle cx="77.4" cy="39.2" r="0.6" fill="#888888"/><circle cx="79.7" cy="39.3" r="0.6" fill="#707070"/><circle cx="82.2" cy="39.6" r="0.6" fill="#707070"/><circle cx="85.2" cy="38.4" r="0.6" fill="#888888"/><circle cx="89.7" cy="40.0" r="0.55" fill="#707070"/><circle cx="92.4" cy="39.7" r="0.5" fill="#888888"/><circle cx="94.7" cy="38.0" r="0.5" fill="#9a9a9a"/><circle cx="3.3" cy="40.1" r="0.6" fill="#707070"/><circle cx="4.4" cy="40.9" r="0.55" fill="#9a9a9a"/><circle cx="6.6" cy="40.8" r="0.55" fill="#9a9a9a"/><circle cx="8.9" cy="41.4" r="0.5" fill="#9a9a9a"/><circle cx="10.4" cy="41.2" r="0.5" fill="#9a9a9a"/><circle cx="14.4" cy="41.5" r="0.6" fill="#9a9a9a"/><circle cx="17.9" cy="40.1" r="0.5" fill="#707070"/><circle cx="20.5" cy="40.5" r="0.55" fill="#888888"/><circle cx="22.1" cy="41.3" r="0.55" fill="#707070"/><circle cx="27.7" cy="40.3" r="0.55" fill="#707070"/><circle cx="31.7" cy="41.8" r="0.55" fill="#9a9a9a"/><circle cx="32.7" cy="40.9" r="0.6" fill="#9a9a9a"/><circle cx="38.7" cy="40.9" r="0.55" fill="#9a9a9a"/><circle cx="40.4" cy="40.9" r="0.55" fill="#888888"/><circle cx="43.0" cy="41.0" r="0.5" fill="#9a9a9a"/><circle cx="47.4" cy="42.0" r="0.6" fill="#888888"/><circle cx="50.8" cy="40.6" r="0.6" fill="#888888"/><circle cx="53.4" cy="41.7" r="0.5" fill="#707070"/><circle cx="60.3" cy="40.3" r="0.55" fill="#707070"/><circle cx="63.5" cy="40.9" r="0.55" fill="#888888"/><circle cx="66.4" cy="40.0" r="0.5" fill="#888888"/><circle cx="75.5" cy="41.1" r="0.5" fill="#707070"/><circle cx="80.6" cy="40.1" r="0.6" fill="#707070"/><circle cx="82.2" cy="41.1" r="0.6" fill="#888888"/><circle cx="85.8" cy="41.6" r="0.5" fill="#707070"/><circle cx="86.4" cy="41.0" r="0.55" fill="#888888"/><circle cx="90.1" cy="41.8" r="0.55" fill="#9a9a9a"/><circle cx="97.9" cy="41.9" r="0.6" fill="#707070"/><circle cx="1.9" cy="43.7" r="0.5" fill="#707070"/><circle cx="2.6" cy="42.3" r="0.6" fill="#888888"/><circle cx="4.7" cy="42.8" r="0.6" fill="#9a9a9a"/><circle cx="10.5" cy="42.5" r="0.55" fill="#888888"/><circle cx="13.0" cy="42.4" r="0.5" fill="#707070"/><circle cx="16.5" cy="42.2" r="0.6" fill="#9a9a9a"/><circle cx="20.0" cy="43.7" r="0.55" fill="#888888"/><circle cx="23.8" cy="43.6" r="0.5" fill="#9a9a9a"/><circle cx="27.1" cy="42.5" r="0.6" fill="#9a9a9a"/><circle cx="32.1" cy="42.8" r="0.6" fill="#707070"/><circle cx="34.3" cy="43.8" r="0.6" fill="#888888"/><circle cx="37.4" cy="44.0" r="0.6" fill="#9a9a9a"/><circle cx="42.5" cy="43.8" r="0.55" fill="#9a9a9a"/><circle cx="44.4" cy="42.6" r="0.55" fill="#888888"/><circle cx="48.4" cy="43.1" r="0.55" fill="#888888"/><circle cx="57.2" cy="42.0" r="0.55" fill="#888888"/><circle cx="58.6" cy="42.1" r="0.55" fill="#888888"/><circle cx="62.7" cy="43.8" r="0.6" fill="#9a9a9a"/><circle cx="68.4" cy="43.3" r="0.6" fill="#707070"/><circle cx="72.6" cy="42.6" r="0.55" fill="#888888"/><circle cx="75.5" cy="43.3" r="0.55" fill="#707070"/><circle cx="77.3" cy="42.3" r="0.6" fill="#888888"/><circle cx="79.5" cy="43.8" r="0.6" fill="#9a9a9a"/><circle cx="81.5" cy="42.9" r="0.5" fill="#9a9a9a"/><circle cx="86.6" cy="42.9" r="0.55" fill="#707070"/><circle cx="88.6" cy="43.6" r="0.55" fill="#707070"/><circle cx="91.6" cy="42.0" r="0.6" fill="#888888"/><circle cx="94.1" cy="42.5" r="0.6" fill="#9a9a9a"/><circle cx="96.4" cy="42.7" r="0.6" fill="#707070"/><circle cx="98.1" cy="42.1" r="0.55" fill="#707070"/><circle cx="1.2" cy="45.1" r="0.6" fill="#9a9a9a"/><circle cx="3.9" cy="44.4" r="0.6" fill="#888888"/><circle cx="5.0" cy="45.3" r="0.55" fill="#707070"/><circle cx="7.7" cy="45.0" r="0.6" fill="#707070"/><circle cx="8.7" cy="44.9" r="0.5" fill="#707070"/><circle cx="10.3" cy="44.7" r="0.5" fill="#888888"/><circle cx="13.4" cy="45.6" r="0.55" fill="#888888"/><circle cx="17.6" cy="45.0" r="0.6" fill="#888888"/><circle cx="19.4" cy="44.3" r="0.6" fill="#888888"/><circle cx="21.9" cy="45.1" r="0.55" fill="#9a9a9a"/><circle cx="23.7" cy="44.1" r="0.55" fill="#707070"/><circle cx="31.7" cy="44.8" r="0.5" fill="#707070"/><circle cx="36.5" cy="45.4" r="0.5" fill="#707070"/><circle cx="43.5" cy="44.6" r="0.55" fill="#888888"/><circle cx="47.6" cy="44.5" r="0.5" fill="#888888"/><circle cx="49.9" cy="45.9" r="0.5" fill="#888888"/><circle cx="52.2" cy="44.6" r="0.55" fill="#707070"/><circle cx="55.4" cy="44.4" r="0.55" fill="#9a9a9a"/><circle cx="61.6" cy="44.8" r="0.5" fill="#9a9a9a"/><circle cx="62.8" cy="44.8" r="0.55" fill="#9a9a9a"/><circle cx="64.9" cy="45.0" r="0.5" fill="#888888"/><circle cx="67.1" cy="44.8" r="0.6" fill="#9a9a9a"/><circle cx="72.7" cy="45.0" r="0.55" fill="#707070"/><circle cx="86.0" cy="45.8" r="0.55" fill="#707070"/><circle cx="89.1" cy="44.0" r="0.5" fill="#888888"/><circle cx="91.1" cy="45.0" r="0.55" fill="#888888"/><circle cx="93.0" cy="45.6" r="0.6" fill="#9a9a9a"/><circle cx="-0.2" cy="45.7" r="0.6" fill="#707070"/><circle cx="99.8" cy="45.7" r="0.6" fill="#707070"/><circle cx="199.8" cy="45.7" r="0.6" fill="#707070"/><circle cx="1.7" cy="47.1" r="0.6" fill="#707070"/><circle cx="2.3" cy="46.0" r="0.6" fill="#707070"/><circle cx="4.5" cy="47.8" r="0.55" fill="#707070"/><circle cx="6.6" cy="47.8" r="0.5" fill="#888888"/><circle cx="11.8" cy="47.6" r="0.55" fill="#707070"/><circle cx="12.9" cy="47.9" r="0.6" fill="#9a9a9a"/><circle cx="14.1" cy="47.0" r="0.55" fill="#707070"/><circle cx="19.9" cy="46.2" r="0.55" fill="#707070"/><circle cx="22.2" cy="46.7" r="0.55" fill="#9a9a9a"/><circle cx="24.9" cy="47.2" r="0.5" fill="#9a9a9a"/><circle cx="27.7" cy="46.5" r="0.5" fill="#707070"/><circle cx="29.3" cy="47.2" r="0.55" fill="#9a9a9a"/><circle cx="30.6" cy="46.0" r="0.5" fill="#707070"/><circle cx="33.9" cy="47.9" r="0.6" fill="#707070"/><circle cx="41.1" cy="46.9" r="0.55" fill="#9a9a9a"/><circle cx="42.3" cy="46.7" r="0.6" fill="#888888"/><circle cx="45.2" cy="47.4" r="0.6" fill="#9a9a9a"/><circle cx="50.3" cy="47.5" r="0.5" fill="#707070"/><circle cx="53.7" cy="47.7" r="0.55" fill="#9a9a9a"/><circle cx="55.8" cy="47.9" r="0.6" fill="#707070"/><circle cx="61.0" cy="47.8" r="0.6" fill="#888888"/><circle cx="62.4" cy="46.6" r="0.55" fill="#888888"/><circle cx="67.5" cy="46.8" r="0.6" fill="#888888"/><circle cx="68.4" cy="46.9" r="0.6" fill="#9a9a9a"/><circle cx="70.3" cy="48.0" r="0.5" fill="#707070"/><circle cx="75.6" cy="47.2" r="0.5" fill="#9a9a9a"/><circle cx="77.3" cy="47.4" r="0.5" fill="#9a9a9a"/><circle cx="84.7" cy="48.0" r="0.6" fill="#9a9a9a"/><circle cx="87.3" cy="47.2" r="0.5" fill="#888888"/><circle cx="88.0" cy="47.2" r="0.6" fill="#707070"/><circle cx="91.2" cy="46.7" r="0.5" fill="#9a9a9a"/><circle cx="93.2" cy="48.0" r="0.6" fill="#707070"/><circle cx="95.5" cy="48.0" r="0.55" fill="#9a9a9a"/><circle cx="4.8" cy="48.5" r="0.6" fill="#707070"/><circle cx="7.5" cy="49.5" r="0.5" fill="#9a9a9a"/><circle cx="8.7" cy="48.1" r="0.6" fill="#9a9a9a"/><circle cx="12.5" cy="48.0" r="0.55" fill="#888888"/><circle cx="14.6" cy="49.0" r="0.6" fill="#9a9a9a"/><circle cx="18.1" cy="48.7" r="0.55" fill="#9a9a9a"/><circle cx="20.3" cy="48.6" r="0.55" fill="#707070"/><circle cx="29.1" cy="49.2" r="0.6" fill="#707070"/><circle cx="31.2" cy="48.3" r="0.55" fill="#9a9a9a"/><circle cx="32.1" cy="48.9" r="0.5" fill="#9a9a9a"/><circle cx="34.5" cy="48.4" r="0.55" fill="#888888"/><circle cx="36.6" cy="49.3" r="0.6" fill="#707070"/><circle cx="39.8" cy="48.5" r="0.55" fill="#707070"/><circle cx="41.6" cy="49.0" r="0.6" fill="#9a9a9a"/><circle cx="45.1" cy="48.0" r="0.5" fill="#707070"/><circle cx="47.5" cy="49.5" r="0.55" fill="#888888"/><circle cx="50.1" cy="49.1" r="0.55" fill="#9a9a9a"/><circle cx="52.7" cy="48.4" r="0.55" fill="#888888"/><circle cx="55.7" cy="48.3" r="0.6" fill="#9a9a9a"/><circle cx="57.7" cy="49.4" r="0.55" fill="#888888"/><circle cx="64.2" cy="48.2" r="0.6" fill="#888888"/><circle cx="73.2" cy="49.9" r="0.55" fill="#888888"/><circle cx="82.8" cy="48.7" r="0.55" fill="#888888"/><circle cx="85.1" cy="48.2" r="0.5" fill="#888888"/><circle cx="87.7" cy="48.1" r="0.6" fill="#707070"/><circle cx="91.7" cy="49.5" r="0.5" fill="#888888"/><circle cx="95.8" cy="49.8" r="0.6" fill="#888888"/><circle cx="-99.9" cy="50.6" r="0.5" fill="#707070"/><circle cx="0.1" cy="50.6" r="0.5" fill="#707070"/><circle cx="100.1" cy="50.6" r="0.5" fill="#707070"/><circle cx="2.7" cy="50.2" r="0.55" fill="#707070"/><circle cx="7.2" cy="51.3" r="0.5" fill="#888888"/><circle cx="8.1" cy="50.9" r="0.6" fill="#888888"/><circle cx="10.2" cy="51.2" r="0.55" fill="#707070"/><circle cx="12.8" cy="50.5" r="0.55" fill="#707070"/><circle cx="14.4" cy="50.4" r="0.55" fill="#888888"/><circle cx="19.0" cy="50.7" r="0.5" fill="#9a9a9a"/><circle cx="23.7" cy="51.8" r="0.55" fill="#707070"/><circle cx="27.9" cy="50.4" r="0.5" fill="#707070"/><circle cx="33.2" cy="51.0" r="0.5" fill="#9a9a9a"/><circle cx="44.0" cy="51.2" r="0.6" fill="#888888"/><circle cx="44.8" cy="51.0" r="0.6" fill="#707070"/><circle cx="47.6" cy="51.0" r="0.5" fill="#888888"/><circle cx="49.6" cy="50.4" r="0.55" fill="#707070"/><circle cx="52.9" cy="52.0" r="0.55" fill="#888888"/><circle cx="55.7" cy="51.9" r="0.5" fill="#888888"/><circle cx="60.0" cy="51.8" r="0.6" fill="#9a9a9a"/><circle cx="61.1" cy="51.1" r="0.55" fill="#888888"/><circle cx="63.5" cy="51.0" r="0.5" fill="#9a9a9a"/><circle cx="69.6" cy="51.9" r="0.5" fill="#9a9a9a"/><circle cx="71.6" cy="51.4" r="0.6" fill="#707070"/><circle cx="75.3" cy="50.2" r="0.5" fill="#707070"/><circle cx="77.7" cy="51.1" r="0.5" fill="#888888"/><circle cx="79.2" cy="51.9" r="0.6" fill="#9a9a9a"/><circle cx="80.0" cy="50.7" r="0.5" fill="#9a9a9a"/><circle cx="83.2" cy="50.5" r="0.5" fill="#707070"/><circle cx="84.8" cy="51.9" r="0.5" fill="#888888"/><circle cx="93.7" cy="50.3" r="0.5" fill="#888888"/><circle cx="94.5" cy="51.2" r="0.6" fill="#9a9a9a"/><circle cx="98.6" cy="51.5" r="0.55" fill="#9a9a9a"/><circle cx="1.4" cy="53.8" r="0.55" fill="#707070"/><circle cx="3.2" cy="52.5" r="0.6" fill="#707070"/><circle cx="10.5" cy="52.2" r="0.6" fill="#707070"/><circle cx="12.9" cy="52.4" r="0.5" fill="#9a9a9a"/><circle cx="16.0" cy="53.2" r="0.5" fill="#9a9a9a"/><circle cx="18.2" cy="53.2" r="0.55" fill="#707070"/><circle cx="20.8" cy="52.3" r="0.5" fill="#9a9a9a"/><circle cx="27.7" cy="53.1" r="0.6" fill="#9a9a9a"/><circle cx="28.1" cy="52.3" r="0.6" fill="#9a9a9a"/><circle cx="35.8" cy="53.9" r="0.55" fill="#707070"/><circle cx="37.0" cy="52.9" r="0.5" fill="#9a9a9a"/><circle cx="50.3" cy="53.3" r="0.6" fill="#9a9a9a"/><circle cx="52.9" cy="52.3" r="0.6" fill="#888888"/><circle cx="55.1" cy="52.6" r="0.5" fill="#9a9a9a"/><circle cx="56.6" cy="52.5" r="0.5" fill="#888888"/><circle cx="61.0" cy="53.8" r="0.6" fill="#707070"/><circle cx="67.0" cy="52.7" r="0.5" fill="#888888"/><circle cx="68.2" cy="52.6" r="0.6" fill="#9a9a9a"/><circle cx="74.0" cy="53.0" r="0.6" fill="#9a9a9a"/><circle cx="75.3" cy="53.1" r="0.5" fill="#9a9a9a"/><circle cx="76.1" cy="53.0" r="0.6" fill="#888888"/><circle cx="78.8" cy="53.2" r="0.55" fill="#707070"/><circle cx="84.4" cy="53.1" r="0.5" fill="#888888"/><circle cx="88.0" cy="54.0" r="0.55" fill="#707070"/><circle cx="90.9" cy="52.3" r="0.55" fill="#888888"/><circle cx="93.7" cy="52.2" r="0.6" fill="#888888"/><circle cx="94.0" cy="53.1" r="0.55" fill="#888888"/><circle cx="-0.6" cy="52.7" r="0.6" fill="#9a9a9a"/><circle cx="99.4" cy="52.7" r="0.6" fill="#9a9a9a"/><circle cx="199.4" cy="52.7" r="0.6" fill="#9a9a9a"/><circle cx="3.0" cy="54.6" r="0.5" fill="#888888"/><circle cx="6.8" cy="55.2" r="0.55" fill="#888888"/><circle cx="8.9" cy="55.6" r="0.5" fill="#707070"/><circle cx="11.4" cy="55.4" r="0.55" fill="#888888"/><circle cx="14.0" cy="55.0" r="0.55" fill="#9a9a9a"/><circle cx="14.5" cy="55.7" r="0.55" fill="#888888"/><circle cx="17.2" cy="55.0" r="0.6" fill="#888888"/><circle cx="19.9" cy="55.5" r="0.5" fill="#888888"/><circle cx="20.0" cy="54.1" r="0.55" fill="#707070"/><circle cx="23.9" cy="54.2" r="0.55" fill="#707070"/><circle cx="24.7" cy="55.4" r="0.55" fill="#888888"/><circle cx="27.6" cy="55.2" r="0.6" fill="#707070"/><circle cx="29.8" cy="55.3" r="0.5" fill="#888888"/><circle cx="32.2" cy="55.8" r="0.55" fill="#707070"/><circle cx="37.6" cy="54.5" r="0.6" fill="#707070"/><circle cx="45.4" cy="54.5" r="0.6" fill="#9a9a9a"/><circle cx="48.1" cy="54.5" r="0.55" fill="#888888"/><circle cx="52.5" cy="55.5" r="0.5" fill="#707070"/><circle cx="61.6" cy="55.2" r="0.55" fill="#707070"/><circle cx="63.7" cy="55.1" r="0.5" fill="#888888"/><circle cx="64.4" cy="55.5" r="0.55" fill="#9a9a9a"/><circle cx="68.2" cy="54.3" r="0.6" fill="#707070"/><circle cx="72.6" cy="55.9" r="0.55" fill="#9a9a9a"/><circle cx="74.9" cy="55.5" r="0.55" fill="#888888"/><circle cx="79.5" cy="54.7" r="0.55" fill="#888888"/><circle cx="83.7" cy="54.4" r="0.55" fill="#707070"/><circle cx="84.6" cy="55.7" r="0.55" fill="#9a9a9a"/><circle cx="87.8" cy="54.0" r="0.55" fill="#9a9a9a"/><circle cx="89.4" cy="55.1" r="0.6" fill="#888888"/><circle cx="90.2" cy="55.0" r="0.55" fill="#888888"/><circle cx="93.2" cy="54.2" r="0.55" fill="#707070"/><circle cx="95.8" cy="54.8" r="0.5" fill="#9a9a9a"/><circle cx="-0.1" cy="54.7" r="0.5" fill="#9a9a9a"/><circle cx="99.9" cy="54.7" r="0.5" fill="#9a9a9a"/><circle cx="199.9" cy="54.7" r="0.5" fill="#9a9a9a"/><circle cx="-99.7" cy="57.1" r="0.55" fill="#707070"/><circle cx="0.3" cy="57.1" r="0.55" fill="#707070"/><circle cx="100.3" cy="57.1" r="0.55" fill="#707070"/><circle cx="2.0" cy="57.0" r="0.5" fill="#888888"/><circle cx="5.6" cy="57.2" r="0.6" fill="#9a9a9a"/><circle cx="13.2" cy="56.9" r="0.6" fill="#9a9a9a"/><circle cx="15.3" cy="56.8" r="0.6" fill="#888888"/><circle cx="18.0" cy="57.7" r="0.6" fill="#9a9a9a"/><circle cx="19.2" cy="56.1" r="0.55" fill="#707070"/><circle cx="20.3" cy="56.9" r="0.55" fill="#888888"/><circle cx="22.3" cy="57.8" r="0.5" fill="#707070"/><circle cx="28.9" cy="57.3" r="0.5" fill="#9a9a9a"/><circle cx="31.5" cy="57.9" r="0.55" fill="#9a9a9a"/><circle cx="33.3" cy="56.6" r="0.55" fill="#888888"/><circle cx="36.9" cy="56.6" r="0.55" fill="#9a9a9a"/><circle cx="39.9" cy="56.3" r="0.5" fill="#9a9a9a"/><circle cx="44.1" cy="56.6" r="0.6" fill="#9a9a9a"/><circle cx="47.2" cy="57.9" r="0.6" fill="#707070"/><circle cx="48.5" cy="56.7" r="0.6" fill="#888888"/><circle cx="51.9" cy="56.9" r="0.5" fill="#9a9a9a"/><circle cx="53.3" cy="57.2" r="0.55" fill="#888888"/><circle cx="55.1" cy="57.7" r="0.5" fill="#9a9a9a"/><circle cx="59.2" cy="57.9" r="0.6" fill="#888888"/><circle cx="62.9" cy="56.4" r="0.6" fill="#9a9a9a"/><circle cx="66.5" cy="57.2" r="0.5" fill="#888888"/><circle cx="70.8" cy="57.5" r="0.5" fill="#707070"/><circle cx="74.9" cy="57.4" r="0.5" fill="#9a9a9a"/><circle cx="82.0" cy="57.5" r="0.6" fill="#707070"/><circle cx="84.8" cy="56.2" r="0.5" fill="#707070"/><circle cx="98.6" cy="57.6" r="0.55" fill="#9a9a9a"/><circle cx="2.4" cy="58.2" r="0.55" fill="#888888"/><circle cx="5.9" cy="58.8" r="0.6" fill="#888888"/><circle cx="12.0" cy="59.5" r="0.5" fill="#888888"/><circle cx="16.1" cy="58.2" r="0.6" fill="#888888"/><circle cx="20.8" cy="59.9" r="0.55" fill="#707070"/><circle cx="26.7" cy="58.5" r="0.6" fill="#9a9a9a"/><circle cx="29.9" cy="58.2" r="0.55" fill="#9a9a9a"/><circle cx="31.0" cy="59.4" r="0.6" fill="#707070"/><circle cx="33.3" cy="58.8" r="0.5" fill="#707070"/><circle cx="35.4" cy="58.7" r="0.6" fill="#9a9a9a"/><circle cx="37.8" cy="59.3" r="0.6" fill="#888888"/><circle cx="42.6" cy="59.6" r="0.6" fill="#9a9a9a"/><circle cx="44.7" cy="58.1" r="0.5" fill="#888888"/><circle cx="49.3" cy="59.1" r="0.5" fill="#9a9a9a"/><circle cx="53.9" cy="60.0" r="0.6" fill="#707070"/><circle cx="55.2" cy="59.0" r="0.5" fill="#9a9a9a"/><circle cx="58.0" cy="59.1" r="0.5" fill="#888888"/><circle cx="59.6" cy="58.8" r="0.55" fill="#888888"/><circle cx="64.7" cy="58.9" r="0.55" fill="#707070"/><circle cx="66.8" cy="59.6" r="0.55" fill="#9a9a9a"/><circle cx="68.1" cy="59.6" r="0.5" fill="#9a9a9a"/><circle cx="71.2" cy="58.8" r="0.6" fill="#888888"/><circle cx="73.4" cy="59.6" r="0.55" fill="#888888"/><circle cx="77.4" cy="59.5" r="0.6" fill="#707070"/><circle cx="79.9" cy="59.5" r="0.55" fill="#9a9a9a"/><circle cx="81.0" cy="59.5" r="0.55" fill="#888888"/><circle cx="82.9" cy="59.4" r="0.5" fill="#888888"/><circle cx="85.4" cy="58.3" r="0.5" fill="#9a9a9a"/><circle cx="86.9" cy="59.8" r="0.5" fill="#9a9a9a"/><circle cx="88.6" cy="58.1" r="0.5" fill="#888888"/><circle cx="93.0" cy="58.1" r="0.6" fill="#9a9a9a"/><circle cx="95.3" cy="58.4" r="0.5" fill="#707070"/><circle cx="96.3" cy="58.4" r="0.55" fill="#888888"/><circle cx="-0.3" cy="58.6" r="0.6" fill="#707070"/><circle cx="99.7" cy="58.6" r="0.6" fill="#707070"/><circle cx="199.7" cy="58.6" r="0.6" fill="#707070"/><circle cx="-99.5" cy="61.9" r="0.55" fill="#888888"/><circle cx="0.5" cy="61.9" r="0.55" fill="#888888"/><circle cx="100.5" cy="61.9" r="0.55" fill="#888888"/><circle cx="7.9" cy="61.4" r="0.55" fill="#707070"/><circle cx="12.1" cy="60.4" r="0.55" fill="#707070"/><circle cx="16.4" cy="61.5" r="0.55" fill="#9a9a9a"/><circle cx="18.2" cy="60.1" r="0.55" fill="#707070"/><circle cx="21.3" cy="60.5" r="0.5" fill="#888888"/><circle cx="22.4" cy="61.5" r="0.5" fill="#707070"/><circle cx="26.0" cy="61.7" r="0.6" fill="#707070"/><circle cx="30.3" cy="60.9" r="0.5" fill="#888888"/><circle cx="33.1" cy="60.2" r="0.6" fill="#9a9a9a"/><circle cx="35.7" cy="61.5" r="0.6" fill="#888888"/><circle cx="36.9" cy="60.9" r="0.6" fill="#888888"/><circle cx="39.9" cy="60.5" r="0.55" fill="#888888"/><circle cx="40.6" cy="60.9" r="0.6" fill="#9a9a9a"/><circle cx="43.1" cy="60.4" r="0.6" fill="#9a9a9a"/><circle cx="44.4" cy="60.5" r="0.55" fill="#9a9a9a"/><circle cx="51.9" cy="61.3" r="0.5" fill="#707070"/><circle cx="53.9" cy="60.0" r="0.55" fill="#707070"/><circle cx="54.7" cy="60.9" r="0.5" fill="#707070"/><circle cx="57.2" cy="61.1" r="0.5" fill="#888888"/><circle cx="59.0" cy="60.6" r="0.5" fill="#9a9a9a"/><circle cx="62.7" cy="61.2" r="0.6" fill="#888888"/><circle cx="66.7" cy="62.0" r="0.6" fill="#9a9a9a"/><circle cx="69.6" cy="61.1" r="0.55" fill="#888888"/><circle cx="74.3" cy="60.4" r="0.5" fill="#9a9a9a"/><circle cx="76.8" cy="61.8" r="0.6" fill="#888888"/><circle cx="86.6" cy="60.0" r="0.55" fill="#888888"/><circle cx="88.4" cy="61.7" r="0.5" fill="#888888"/><circle cx="91.3" cy="60.0" r="0.55" fill="#707070"/><circle cx="92.2" cy="60.2" r="0.5" fill="#888888"/><circle cx="95.9" cy="61.8" r="0.6" fill="#888888"/><circle cx="-1.0" cy="61.6" r="0.6" fill="#888888"/><circle cx="99.0" cy="61.6" r="0.6" fill="#888888"/><circle cx="199.0" cy="61.6" r="0.6" fill="#888888"/><circle cx="-99.7" cy="62.3" r="0.5" fill="#888888"/><circle cx="0.3" cy="62.3" r="0.5" fill="#888888"/><circle cx="100.3" cy="62.3" r="0.5" fill="#888888"/><circle cx="2.6" cy="63.9" r="0.5" fill="#888888"/><circle cx="4.2" cy="62.2" r="0.55" fill="#707070"/><circle cx="8.4" cy="62.3" r="0.5" fill="#9a9a9a"/><circle cx="10.7" cy="63.2" r="0.6" fill="#707070"/><circle cx="14.1" cy="63.2" r="0.55" fill="#707070"/><circle cx="20.7" cy="62.6" r="0.55" fill="#9a9a9a"/><circle cx="23.2" cy="63.0" r="0.55" fill="#888888"/><circle cx="24.1" cy="63.7" r="0.55" fill="#707070"/><circle cx="30.2" cy="63.8" r="0.5" fill="#9a9a9a"/><circle cx="32.1" cy="62.9" r="0.6" fill="#707070"/><circle cx="35.8" cy="62.5" r="0.6" fill="#707070"/><circle cx="36.0" cy="62.4" r="0.6" fill="#707070"/><circle cx="38.3" cy="62.6" r="0.6" fill="#707070"/><circle cx="41.4" cy="63.1" r="0.6" fill="#9a9a9a"/><circle cx="44.8" cy="63.0" r="0.55" fill="#707070"/><circle cx="49.3" cy="62.3" r="0.55" fill="#707070"/><circle cx="51.0" cy="63.2" r="0.55" fill="#888888"/><circle cx="52.4" cy="63.5" r="0.5" fill="#888888"/><circle cx="57.0" cy="62.5" r="0.55" fill="#707070"/><circle cx="59.6" cy="62.7" r="0.55" fill="#707070"/><circle cx="62.7" cy="62.3" r="0.55" fill="#888888"/><circle cx="66.5" cy="63.0" r="0.5" fill="#9a9a9a"/><circle cx="68.2" cy="62.7" r="0.55" fill="#9a9a9a"/><circle cx="73.7" cy="63.6" r="0.6" fill="#888888"/><circle cx="75.9" cy="62.6" r="0.5" fill="#707070"/><circle cx="76.6" cy="63.4" r="0.6" fill="#888888"/><circle cx="82.8" cy="63.4" r="0.55" fill="#888888"/><circle cx="87.9" cy="62.2" r="0.6" fill="#888888"/><circle cx="89.2" cy="63.0" r="0.6" fill="#888888"/><circle cx="91.7" cy="62.9" r="0.6" fill="#888888"/><circle cx="94.0" cy="62.1" r="0.5" fill="#707070"/><circle cx="97.8" cy="62.5" r="0.55" fill="#707070"/><circle cx="-0.8" cy="63.8" r="0.6" fill="#707070"/><circle cx="99.2" cy="63.8" r="0.6" fill="#707070"/><circle cx="199.2" cy="63.8" r="0.6" fill="#707070"/><circle cx="9.0" cy="64.6" r="0.5" fill="#707070"/><circle cx="10.2" cy="65.3" r="0.6" fill="#888888"/><circle cx="13.5" cy="64.6" r="0.5" fill="#707070"/><circle cx="17.2" cy="64.7" r="0.5" fill="#707070"/><circle cx="20.4" cy="65.7" r="0.5" fill="#888888"/><circle cx="25.6" cy="64.0" r="0.6" fill="#9a9a9a"/><circle cx="26.7" cy="65.0" r="0.6" fill="#707070"/><circle cx="29.6" cy="65.9" r="0.5" fill="#9a9a9a"/><circle cx="33.6" cy="65.1" r="0.6" fill="#9a9a9a"/><circle cx="39.4" cy="64.2" r="0.5" fill="#707070"/><circle cx="42.7" cy="64.3" r="0.5" fill="#707070"/><circle cx="45.9" cy="65.3" r="0.5" fill="#9a9a9a"/><circle cx="46.7" cy="65.7" r="0.6" fill="#9a9a9a"/><circle cx="48.3" cy="65.4" r="0.5" fill="#888888"/><circle cx="53.9" cy="64.0" r="0.55" fill="#9a9a9a"/><circle cx="56.3" cy="64.5" r="0.6" fill="#888888"/><circle cx="61.4" cy="64.2" r="0.6" fill="#888888"/><circle cx="64.2" cy="64.6" r="0.55" fill="#9a9a9a"/><circle cx="67.3" cy="65.9" r="0.55" fill="#888888"/><circle cx="68.5" cy="65.6" r="0.5" fill="#707070"/><circle cx="75.3" cy="65.2" r="0.5" fill="#888888"/><circle cx="79.7" cy="64.9" r="0.55" fill="#707070"/><circle cx="80.4" cy="64.2" r="0.5" fill="#888888"/><circle cx="91.4" cy="65.5" r="0.5" fill="#9a9a9a"/><circle cx="92.0" cy="64.1" r="0.5" fill="#888888"/><circle cx="94.8" cy="64.4" r="0.5" fill="#707070"/><circle cx="98.4" cy="64.7" r="0.55" fill="#888888"/><circle cx="-100.0" cy="67.1" r="0.55" fill="#888888"/><circle cx="0.0" cy="67.1" r="0.55" fill="#888888"/><circle cx="100.0" cy="67.1" r="0.55" fill="#888888"/><circle cx="4.7" cy="66.6" r="0.55" fill="#707070"/><circle cx="6.2" cy="66.3" r="0.55" fill="#9a9a9a"/><circle cx="8.1" cy="67.9" r="0.6" fill="#9a9a9a"/><circle cx="11.1" cy="66.8" r="0.5" fill="#888888"/><circle cx="17.0" cy="66.1" r="0.5" fill="#9a9a9a"/><circle cx="21.3" cy="68.0" r="0.6" fill="#9a9a9a"/><circle cx="26.0" cy="67.4" r="0.55" fill="#9a9a9a"/><circle cx="27.0" cy="67.1" r="0.6" fill="#707070"/><circle cx="30.4" cy="66.7" r="0.55" fill="#9a9a9a"/><circle cx="34.0" cy="67.9" r="0.55" fill="#707070"/><circle cx="40.6" cy="66.2" r="0.55" fill="#9a9a9a"/><circle cx="43.0" cy="67.7" r="0.55" fill="#9a9a9a"/><circle cx="44.9" cy="67.7" r="0.6" fill="#9a9a9a"/><circle cx="49.1" cy="66.3" r="0.6" fill="#707070"/><circle cx="53.9" cy="66.7" r="0.55" fill="#9a9a9a"/><circle cx="55.2" cy="67.4" r="0.55" fill="#888888"/><circle cx="57.9" cy="66.1" r="0.6" fill="#707070"/><circle cx="58.4" cy="66.0" r="0.55" fill="#888888"/><circle cx="60.7" cy="66.9" r="0.5" fill="#707070"/><circle cx="63.4" cy="66.9" r="0.55" fill="#9a9a9a"/><circle cx="66.3" cy="66.1" r="0.6" fill="#888888"/><circle cx="69.2" cy="67.1" r="0.5" fill="#888888"/><circle cx="71.5" cy="66.2" r="0.55" fill="#707070"/><circle cx="72.2" cy="67.8" r="0.55" fill="#707070"/><circle cx="78.7" cy="67.9" r="0.6" fill="#707070"/><circle cx="80.3" cy="66.1" r="0.6" fill="#888888"/><circle cx="83.0" cy="67.0" r="0.55" fill="#888888"/><circle cx="84.1" cy="66.5" r="0.55" fill="#888888"/><circle cx="89.0" cy="67.7" r="0.55" fill="#9a9a9a"/><circle cx="93.4" cy="66.5" r="0.6" fill="#9a9a9a"/><circle cx="94.5" cy="66.3" r="0.55" fill="#9a9a9a"/><circle cx="97.3" cy="66.8" r="0.55" fill="#707070"/><circle cx="-0.0" cy="68.0" r="0.5" fill="#707070"/><circle cx="100.0" cy="68.0" r="0.5" fill="#707070"/><circle cx="200.0" cy="68.0" r="0.5" fill="#707070"/><circle cx="1.4" cy="68.9" r="0.55" fill="#9a9a9a"/><circle cx="3.5" cy="69.4" r="0.6" fill="#888888"/><circle cx="8.7" cy="69.7" r="0.5" fill="#888888"/><circle cx="13.9" cy="68.7" r="0.55" fill="#9a9a9a"/><circle cx="22.9" cy="69.6" r="0.5" fill="#888888"/><circle cx="26.5" cy="68.7" r="0.6" fill="#707070"/><circle cx="32.8" cy="68.6" r="0.6" fill="#9a9a9a"/><circle cx="34.2" cy="69.1" r="0.55" fill="#888888"/><circle cx="39.8" cy="69.7" r="0.55" fill="#707070"/><circle cx="41.8" cy="69.0" r="0.6" fill="#9a9a9a"/><circle cx="45.5" cy="68.1" r="0.6" fill="#707070"/><circle cx="46.9" cy="68.1" r="0.6" fill="#888888"/><circle cx="50.1" cy="68.0" r="0.5" fill="#9a9a9a"/><circle cx="52.3" cy="68.4" r="0.5" fill="#707070"/><circle cx="54.9" cy="68.8" r="0.6" fill="#888888"/><circle cx="58.7" cy="68.1" r="0.6" fill="#9a9a9a"/><circle cx="61.4" cy="68.8" r="0.6" fill="#888888"/><circle cx="62.1" cy="68.9" r="0.6" fill="#9a9a9a"/><circle cx="66.8" cy="69.8" r="0.6" fill="#707070"/><circle cx="68.2" cy="68.2" r="0.5" fill="#707070"/><circle cx="72.4" cy="69.3" r="0.5" fill="#9a9a9a"/><circle cx="77.6" cy="69.7" r="0.6" fill="#9a9a9a"/><circle cx="80.0" cy="69.7" r="0.6" fill="#888888"/><circle cx="81.6" cy="69.0" r="0.6" fill="#707070"/><circle cx="83.7" cy="68.3" r="0.5" fill="#9a9a9a"/><circle cx="84.5" cy="68.4" r="0.55" fill="#707070"/><circle cx="88.0" cy="68.7" r="0.5" fill="#888888"/><circle cx="88.4" cy="69.7" r="0.5" fill="#707070"/><circle cx="91.1" cy="68.9" r="0.5" fill="#888888"/><circle cx="93.6" cy="69.9" r="0.5" fill="#888888"/><circle cx="95.2" cy="69.7" r="0.5" fill="#707070"/><circle cx="98.1" cy="68.8" r="0.6" fill="#888888"/><circle cx="1.1" cy="71.0" r="0.55" fill="#707070"/><circle cx="2.1" cy="70.1" r="0.5" fill="#707070"/><circle cx="6.2" cy="71.2" r="0.5" fill="#707070"/><circle cx="10.7" cy="71.5" r="0.6" fill="#9a9a9a"/><circle cx="14.8" cy="70.9" r="0.6" fill="#888888"/><circle cx="16.8" cy="71.0" r="0.5" fill="#9a9a9a"/><circle cx="20.0" cy="70.4" r="0.55" fill="#9a9a9a"/><circle cx="23.9" cy="71.4" r="0.55" fill="#707070"/><circle cx="25.0" cy="71.9" r="0.6" fill="#9a9a9a"/><circle cx="27.7" cy="71.7" r="0.6" fill="#707070"/><circle cx="29.4" cy="71.5" r="0.5" fill="#888888"/><circle cx="33.9" cy="70.5" r="0.55" fill="#707070"/><circle cx="35.0" cy="70.3" r="0.55" fill="#888888"/><circle cx="38.9" cy="71.0" r="0.55" fill="#9a9a9a"/><circle cx="45.3" cy="71.8" r="0.55" fill="#888888"/><circle cx="46.5" cy="70.0" r="0.5" fill="#888888"/><circle cx="49.7" cy="70.3" r="0.6" fill="#9a9a9a"/><circle cx="51.5" cy="71.2" r="0.6" fill="#707070"/><circle cx="54.4" cy="70.8" r="0.6" fill="#707070"/><circle cx="59.1" cy="71.9" r="0.5" fill="#888888"/><circle cx="60.6" cy="71.1" r="0.6" fill="#9a9a9a"/><circle cx="63.5" cy="70.0" r="0.6" fill="#9a9a9a"/><circle cx="65.3" cy="71.3" r="0.5" fill="#888888"/><circle cx="69.8" cy="71.7" r="0.55" fill="#9a9a9a"/><circle cx="71.3" cy="71.8" r="0.5" fill="#888888"/><circle cx="79.8" cy="70.6" r="0.6" fill="#888888"/><circle cx="83.5" cy="71.5" r="0.6" fill="#888888"/><circle cx="86.8" cy="71.4" r="0.6" fill="#9a9a9a"/><circle cx="89.8" cy="71.8" r="0.55" fill="#888888"/><circle cx="93.3" cy="70.2" r="0.6" fill="#9a9a9a"/><circle cx="96.3" cy="70.6" r="0.55" fill="#707070"/><circle cx="1.7" cy="73.3" r="0.6" fill="#9a9a9a"/><circle cx="2.8" cy="72.9" r="0.6" fill="#707070"/><circle cx="7.8" cy="73.8" r="0.5" fill="#9a9a9a"/><circle cx="8.4" cy="72.3" r="0.6" fill="#888888"/><circle cx="15.1" cy="73.1" r="0.6" fill="#707070"/><circle cx="17.6" cy="73.4" r="0.6" fill="#9a9a9a"/><circle cx="18.9" cy="73.3" r="0.5" fill="#888888"/><circle cx="23.4" cy="72.5" r="0.6" fill="#888888"/><circle cx="26.0" cy="73.0" r="0.5" fill="#707070"/><circle cx="29.1" cy="72.3" r="0.55" fill="#707070"/><circle cx="31.3" cy="72.5" r="0.5" fill="#707070"/><circle cx="32.6" cy="73.4" r="0.6" fill="#707070"/><circle cx="41.3" cy="73.5" r="0.5" fill="#888888"/><circle cx="42.7" cy="72.1" r="0.55" fill="#707070"/><circle cx="46.8" cy="72.6" r="0.55" fill="#888888"/><circle cx="54.3" cy="72.2" r="0.5" fill="#707070"/><circle cx="57.9" cy="72.8" r="0.55" fill="#888888"/><circle cx="61.2" cy="73.9" r="0.5" fill="#9a9a9a"/><circle cx="62.1" cy="72.4" r="0.6" fill="#9a9a9a"/><circle cx="65.7" cy="73.9" r="0.5" fill="#888888"/><circle cx="70.9" cy="72.6" r="0.55" fill="#707070"/><circle cx="73.7" cy="72.4" r="0.5" fill="#888888"/><circle cx="74.6" cy="72.3" r="0.5" fill="#9a9a9a"/><circle cx="77.5" cy="72.7" r="0.55" fill="#707070"/><circle cx="78.5" cy="73.6" r="0.5" fill="#888888"/><circle cx="80.6" cy="73.0" r="0.55" fill="#888888"/><circle cx="82.9" cy="73.5" r="0.6" fill="#9a9a9a"/><circle cx="93.0" cy="73.5" r="0.6" fill="#888888"/><circle cx="-0.1" cy="73.1" r="0.55" fill="#9a9a9a"/><circle cx="99.9" cy="73.1" r="0.55" fill="#9a9a9a"/><circle cx="199.9" cy="73.1" r="0.55" fill="#9a9a9a"/><circle cx="-99.7" cy="74.9" r="0.5" fill="#888888"/><circle cx="0.3" cy="74.9" r="0.5" fill="#888888"/><circle cx="100.3" cy="74.9" r="0.5" fill="#888888"/><circle cx="4.1" cy="74.7" r="0.6" fill="#707070"/><circle cx="8.3" cy="74.5" r="0.6" fill="#9a9a9a"/><circle cx="11.6" cy="74.6" r="0.6" fill="#9a9a9a"/><circle cx="13.5" cy="75.4" r="0.55" fill="#9a9a9a"/><circle cx="17.3" cy="74.5" r="0.55" fill="#9a9a9a"/><circle cx="18.3" cy="75.4" r="0.5" fill="#707070"/><circle cx="23.8" cy="75.1" r="0.6" fill="#9a9a9a"/><circle cx="25.1" cy="75.8" r="0.6" fill="#9a9a9a"/><circle cx="26.9" cy="75.8" r="0.6" fill="#9a9a9a"/><circle cx="33.3" cy="74.1" r="0.6" fill="#888888"/><circle cx="36.2" cy="74.7" r="0.5" fill="#888888"/><circle cx="39.8" cy="75.7" r="0.55" fill="#888888"/><circle cx="40.1" cy="75.4" r="0.55" fill="#888888"/><circle cx="42.5" cy="74.9" r="0.55" fill="#707070"/><circle cx="47.6" cy="74.8" r="0.6" fill="#888888"/><circle cx="52.6" cy="75.4" r="0.55" fill="#888888"/><circle cx="54.1" cy="74.1" r="0.5" fill="#9a9a9a"/><circle cx="59.6" cy="75.0" r="0.5" fill="#888888"/><circle cx="60.7" cy="74.4" r="0.5" fill="#888888"/><circle cx="62.2" cy="74.5" r="0.5" fill="#888888"/><circle cx="65.9" cy="75.1" r="0.5" fill="#888888"/><circle cx="67.1" cy="75.6" r="0.6" fill="#9a9a9a"/><circle cx="69.5" cy="74.1" r="0.5" fill="#888888"/><circle cx="72.0" cy="74.4" r="0.6" fill="#9a9a9a"/><circle cx="73.5" cy="74.2" r="0.55" fill="#707070"/><circle cx="74.2" cy="75.8" r="0.5" fill="#9a9a9a"/><circle cx="79.3" cy="74.1" r="0.6" fill="#707070"/><circle cx="83.1" cy="74.0" r="0.55" fill="#707070"/><circle cx="85.1" cy="74.1" r="0.5" fill="#707070"/><circle cx="87.1" cy="74.4" r="0.5" fill="#707070"/><circle cx="88.2" cy="74.5" r="0.6" fill="#707070"/><circle cx="91.7" cy="74.7" r="0.5" fill="#9a9a9a"/><circle cx="92.7" cy="75.6" r="0.55" fill="#888888"/><circle cx="95.7" cy="74.4" r="0.6" fill="#707070"/><circle cx="96.2" cy="75.8" r="0.55" fill="#9a9a9a"/><circle cx="98.1" cy="75.9" r="0.6" fill="#707070"/><circle cx="4.9" cy="76.4" r="0.5" fill="#9a9a9a"/><circle cx="9.5" cy="77.1" r="0.55" fill="#9a9a9a"/><circle cx="11.7" cy="77.6" r="0.55" fill="#888888"/><circle cx="15.2" cy="76.8" r="0.55" fill="#888888"/><circle cx="19.6" cy="76.9" r="0.6" fill="#707070"/><circle cx="24.7" cy="76.0" r="0.5" fill="#9a9a9a"/><circle cx="27.3" cy="76.2" r="0.55" fill="#888888"/><circle cx="30.6" cy="76.8" r="0.55" fill="#707070"/><circle cx="33.8" cy="76.9" r="0.6" fill="#9a9a9a"/><circle cx="37.3" cy="76.8" r="0.55" fill="#707070"/><circle cx="39.2" cy="78.0" r="0.55" fill="#888888"/><circle cx="41.8" cy="77.6" r="0.5" fill="#888888"/><circle cx="43.5" cy="77.4" r="0.6" fill="#707070"/><circle cx="45.0" cy="76.2" r="0.6" fill="#888888"/><circle cx="46.3" cy="76.9" r="0.6" fill="#707070"/><circle cx="51.7" cy="77.2" r="0.6" fill="#9a9a9a"/><circle cx="53.4" cy="77.8" r="0.5" fill="#9a9a9a"/><circle cx="54.2" cy="76.3" r="0.55" fill="#707070"/><circle cx="61.6" cy="77.9" r="0.6" fill="#9a9a9a"/><circle cx="63.0" cy="76.2" r="0.6" fill="#9a9a9a"/><circle cx="64.5" cy="76.5" r="0.5" fill="#888888"/><circle cx="67.7" cy="76.8" r="0.5" fill="#707070"/><circle cx="75.7" cy="76.0" r="0.6" fill="#9a9a9a"/><circle cx="78.8" cy="77.7" r="0.55" fill="#9a9a9a"/><circle cx="82.5" cy="77.8" r="0.5" fill="#888888"/><circle cx="84.9" cy="76.1" r="0.55" fill="#9a9a9a"/><circle cx="89.5" cy="77.9" r="0.5" fill="#707070"/><circle cx="98.0" cy="77.1" r="0.5" fill="#888888"/><circle cx="1.6" cy="78.2" r="0.6" fill="#9a9a9a"/><circle cx="5.7" cy="78.7" r="0.5" fill="#9a9a9a"/><circle cx="6.6" cy="79.0" r="0.6" fill="#9a9a9a"/><circle cx="9.1" cy="79.3" r="0.6" fill="#9a9a9a"/><circle cx="10.9" cy="79.9" r="0.55" fill="#9a9a9a"/><circle cx="15.1" cy="79.1" r="0.5" fill="#9a9a9a"/><circle cx="19.8" cy="79.7" r="0.6" fill="#9a9a9a"/><circle cx="32.7" cy="78.3" r="0.5" fill="#9a9a9a"/><circle cx="34.5" cy="78.9" r="0.55" fill="#888888"/><circle cx="36.4" cy="79.5" r="0.5" fill="#9a9a9a"/><circle cx="39.5" cy="78.3" r="0.5" fill="#9a9a9a"/><circle cx="40.0" cy="79.1" r="0.55" fill="#707070"/><circle cx="42.1" cy="79.7" r="0.5" fill="#888888"/><circle cx="44.4" cy="78.6" r="0.5" fill="#9a9a9a"/><circle cx="54.1" cy="78.3" r="0.5" fill="#707070"/><circle cx="58.4" cy="78.9" r="0.55" fill="#888888"/><circle cx="65.2" cy="79.5" r="0.6" fill="#888888"/><circle cx="69.0" cy="79.0" r="0.6" fill="#707070"/><circle cx="71.8" cy="80.0" r="0.6" fill="#9a9a9a"/><circle cx="73.6" cy="78.4" r="0.5" fill="#888888"/><circle cx="74.9" cy="78.0" r="0.6" fill="#888888"/><circle cx="80.4" cy="79.7" r="0.55" fill="#9a9a9a"/><circle cx="82.8" cy="79.1" r="0.6" fill="#888888"/><circle cx="84.4" cy="79.3" r="0.5" fill="#707070"/><circle cx="88.3" cy="78.8" r="0.5" fill="#888888"/><circle cx="90.4" cy="78.7" r="0.6" fill="#888888"/><circle cx="93.2" cy="79.2" r="0.55" fill="#707070"/><circle cx="95.4" cy="78.0" r="0.5" fill="#707070"/><circle cx="-0.4" cy="79.2" r="0.55" fill="#888888"/><circle cx="99.6" cy="79.2" r="0.55" fill="#888888"/><circle cx="199.6" cy="79.2" r="0.55" fill="#888888"/><circle cx="1.1" cy="80.3" r="0.5" fill="#9a9a9a"/><circle cx="2.6" cy="81.3" r="0.5" fill="#707070"/><circle cx="6.8" cy="80.4" r="0.55" fill="#888888"/><circle cx="10.1" cy="80.4" r="0.6" fill="#9a9a9a"/><circle cx="16.0" cy="81.8" r="0.5" fill="#707070"/><circle cx="19.7" cy="81.3" r="0.5" fill="#707070"/><circle cx="23.7" cy="80.5" r="0.6" fill="#707070"/><circle cx="26.0" cy="80.6" r="0.5" fill="#707070"/><circle cx="28.4" cy="80.8" r="0.5" fill="#707070"/><circle cx="33.5" cy="80.2" r="0.5" fill="#888888"/><circle cx="34.2" cy="81.4" r="0.6" fill="#707070"/><circle cx="39.5" cy="80.3" r="0.6" fill="#888888"/><circle cx="42.0" cy="81.8" r="0.6" fill="#888888"/><circle cx="43.1" cy="80.0" r="0.6" fill="#888888"/><circle cx="45.8" cy="81.5" r="0.6" fill="#9a9a9a"/><circle cx="54.0" cy="81.3" r="0.55" fill="#707070"/><circle cx="61.4" cy="80.9" r="0.5" fill="#707070"/><circle cx="62.1" cy="80.4" r="0.5" fill="#707070"/><circle cx="65.1" cy="81.9" r="0.6" fill="#707070"/><circle cx="68.0" cy="81.7" r="0.5" fill="#9a9a9a"/><circle cx="72.1" cy="81.9" r="0.6" fill="#9a9a9a"/><circle cx="74.5" cy="80.5" r="0.5" fill="#9a9a9a"/><circle cx="81.2" cy="81.9" r="0.5" fill="#707070"/><circle cx="87.1" cy="82.0" r="0.5" fill="#9a9a9a"/><circle cx="89.0" cy="81.9" r="0.55" fill="#888888"/><circle cx="92.2" cy="81.9" r="0.55" fill="#888888"/><circle cx="96.9" cy="80.9" r="0.55" fill="#888888"/><circle cx="-0.5" cy="80.5" r="0.6" fill="#888888"/><circle cx="99.5" cy="80.5" r="0.6" fill="#888888"/><circle cx="199.5" cy="80.5" r="0.6" fill="#888888"/><circle cx="-99.5" cy="82.2" r="0.6" fill="#9a9a9a"/><circle cx="0.5" cy="82.2" r="0.6" fill="#9a9a9a"/><circle cx="100.5" cy="82.2" r="0.6" fill="#9a9a9a"/><circle cx="5.1" cy="82.0" r="0.5" fill="#888888"/><circle cx="6.6" cy="83.9" r="0.5" fill="#9a9a9a"/><circle cx="14.0" cy="83.4" r="0.5" fill="#888888"/><circle cx="19.9" cy="82.2" r="0.6" fill="#9a9a9a"/><circle cx="20.1" cy="83.8" r="0.55" fill="#9a9a9a"/><circle cx="25.1" cy="83.3" r="0.5" fill="#9a9a9a"/><circle cx="26.6" cy="84.0" r="0.55" fill="#9a9a9a"/><circle cx="30.0" cy="82.3" r="0.55" fill="#9a9a9a"/><circle cx="34.1" cy="82.1" r="0.6" fill="#888888"/><circle cx="36.9" cy="82.4" r="0.5" fill="#707070"/><circle cx="46.0" cy="84.0" r="0.5" fill="#9a9a9a"/><circle cx="46.3" cy="82.9" r="0.6" fill="#707070"/><circle cx="50.4" cy="83.6" r="0.6" fill="#888888"/><circle cx="57.9" cy="82.5" r="0.6" fill="#707070"/><circle cx="59.7" cy="82.3" r="0.5" fill="#888888"/><circle cx="62.7" cy="83.4" r="0.5" fill="#888888"/><circle cx="64.5" cy="82.9" r="0.6" fill="#707070"/><circle cx="68.1" cy="82.4" r="0.6" fill="#707070"/><circle cx="73.8" cy="82.4" r="0.6" fill="#9a9a9a"/><circle cx="76.0" cy="83.0" r="0.55" fill="#707070"/><circle cx="76.5" cy="83.8" r="0.55" fill="#888888"/><circle cx="79.7" cy="83.5" r="0.5" fill="#9a9a9a"/><circle cx="89.7" cy="83.1" r="0.6" fill="#707070"/><circle cx="94.5" cy="82.0" r="0.5" fill="#888888"/><circle cx="97.6" cy="82.7" r="0.5" fill="#707070"/><circle cx="3.6" cy="84.0" r="0.5" fill="#9a9a9a"/><circle cx="5.0" cy="85.9" r="0.5" fill="#707070"/><circle cx="11.8" cy="85.5" r="0.6" fill="#707070"/><circle cx="12.1" cy="85.5" r="0.55" fill="#9a9a9a"/><circle cx="18.9" cy="84.9" r="0.5" fill="#888888"/><circle cx="20.0" cy="85.6" r="0.5" fill="#888888"/><circle cx="24.9" cy="85.4" r="0.6" fill="#888888"/><circle cx="26.1" cy="84.6" r="0.55" fill="#888888"/><circle cx="31.0" cy="85.8" r="0.6" fill="#707070"/><circle cx="32.9" cy="85.4" r="0.55" fill="#707070"/><circle cx="35.0" cy="84.6" r="0.55" fill="#888888"/><circle cx="45.0" cy="85.5" r="0.55" fill="#707070"/><circle cx="50.6" cy="85.0" r="0.5" fill="#888888"/><circle cx="61.8" cy="85.6" r="0.55" fill="#888888"/><circle cx="63.0" cy="84.3" r="0.5" fill="#707070"/><circle cx="65.8" cy="84.2" r="0.5" fill="#707070"/><circle cx="70.2" cy="84.2" r="0.55" fill="#707070"/><circle cx="73.9" cy="84.7" r="0.6" fill="#888888"/><circle cx="77.4" cy="84.2" r="0.55" fill="#888888"/><circle cx="83.3" cy="85.0" r="0.5" fill="#888888"/><circle cx="85.4" cy="85.5" r="0.5" fill="#9a9a9a"/><circle cx="87.9" cy="85.2" r="0.5" fill="#707070"/><circle cx="93.8" cy="84.7" r="0.55" fill="#9a9a9a"/><circle cx="99.0" cy="85.6" r="0.55" fill="#888888"/><circle cx="1.8" cy="87.8" r="0.55" fill="#707070"/><circle cx="2.0" cy="87.9" r="0.6" fill="#707070"/><circle cx="5.4" cy="86.7" r="0.5" fill="#888888"/><circle cx="7.7" cy="87.1" r="0.6" fill="#888888"/><circle cx="17.9" cy="86.5" r="0.5" fill="#707070"/><circle cx="19.9" cy="86.5" r="0.55" fill="#707070"/><circle cx="20.1" cy="86.2" r="0.6" fill="#707070"/><circle cx="27.0" cy="87.1" r="0.6" fill="#9a9a9a"/><circle cx="28.6" cy="87.4" r="0.5" fill="#9a9a9a"/><circle cx="31.4" cy="87.6" r="0.6" fill="#707070"/><circle cx="44.2" cy="87.1" r="0.55" fill="#888888"/><circle cx="50.0" cy="86.4" r="0.55" fill="#9a9a9a"/><circle cx="51.3" cy="86.6" r="0.55" fill="#888888"/><circle cx="53.2" cy="87.6" r="0.6" fill="#9a9a9a"/><circle cx="56.6" cy="86.0" r="0.55" fill="#707070"/><circle cx="74.0" cy="86.4" r="0.55" fill="#707070"/><circle cx="76.6" cy="88.0" r="0.55" fill="#707070"/><circle cx="81.9" cy="87.1" r="0.5" fill="#9a9a9a"/><circle cx="82.9" cy="88.0" r="0.5" fill="#888888"/><circle cx="84.3" cy="87.4" r="0.5" fill="#888888"/><circle cx="91.8" cy="87.4" r="0.6" fill="#888888"/><circle cx="93.5" cy="87.1" r="0.5" fill="#707070"/><circle cx="95.3" cy="86.1" r="0.6" fill="#9a9a9a"/><circle cx="96.2" cy="87.5" r="0.6" fill="#9a9a9a"/><circle cx="-0.7" cy="87.2" r="0.55" fill="#9a9a9a"/><circle cx="99.3" cy="87.2" r="0.55" fill="#9a9a9a"/><circle cx="199.3" cy="87.2" r="0.55" fill="#9a9a9a"/><circle cx="1.2" cy="88.7" r="0.55" fill="#9a9a9a"/><circle cx="8.0" cy="89.0" r="0.6" fill="#707070"/><circle cx="10.1" cy="89.7" r="0.5" fill="#9a9a9a"/><circle cx="14.8" cy="88.5" r="0.5" fill="#888888"/><circle cx="18.5" cy="88.3" r="0.6" fill="#9a9a9a"/><circle cx="28.0" cy="88.4" r="0.5" fill="#888888"/><circle cx="29.2" cy="89.6" r="0.55" fill="#9a9a9a"/><circle cx="32.3" cy="90.0" r="0.5" fill="#9a9a9a"/><circle cx="34.1" cy="88.8" r="0.6" fill="#888888"/><circle cx="39.3" cy="89.0" r="0.5" fill="#9a9a9a"/><circle cx="41.3" cy="89.3" r="0.5" fill="#707070"/><circle cx="42.3" cy="89.1" r="0.5" fill="#9a9a9a"/><circle cx="45.6" cy="89.5" r="0.5" fill="#888888"/><circle cx="51.9" cy="89.1" r="0.6" fill="#9a9a9a"/><circle cx="53.0" cy="88.9" r="0.55" fill="#9a9a9a"/><circle cx="54.2" cy="88.4" r="0.5" fill="#707070"/><circle cx="58.5" cy="88.8" r="0.5" fill="#9a9a9a"/><circle cx="60.1" cy="88.6" r="0.5" fill="#9a9a9a"/><circle cx="65.9" cy="88.5" r="0.55" fill="#888888"/><circle cx="70.1" cy="88.5" r="0.5" fill="#888888"/><circle cx="74.3" cy="88.4" r="0.5" fill="#707070"/><circle cx="76.2" cy="89.2" r="0.6" fill="#888888"/><circle cx="79.1" cy="89.1" r="0.6" fill="#9a9a9a"/><circle cx="83.7" cy="88.4" r="0.5" fill="#9a9a9a"/><circle cx="85.1" cy="89.6" r="0.5" fill="#707070"/><circle cx="87.0" cy="89.9" r="0.55" fill="#9a9a9a"/><circle cx="89.8" cy="89.9" r="0.55" fill="#888888"/><circle cx="94.0" cy="88.5" r="0.5" fill="#9a9a9a"/><circle cx="94.2" cy="88.8" r="0.55" fill="#888888"/><circle cx="-0.6" cy="89.7" r="0.55" fill="#9a9a9a"/><circle cx="99.4" cy="89.7" r="0.55" fill="#9a9a9a"/><circle cx="199.4" cy="89.7" r="0.55" fill="#9a9a9a"/><circle cx="-99.4" cy="90.2" r="0.6" fill="#9a9a9a"/><circle cx="0.6" cy="90.2" r="0.6" fill="#9a9a9a"/><circle cx="100.6" cy="90.2" r="0.6" fill="#9a9a9a"/><circle cx="3.3" cy="91.4" r="0.6" fill="#9a9a9a"/><circle cx="7.7" cy="90.3" r="0.55" fill="#9a9a9a"/><circle cx="9.6" cy="91.7" r="0.5" fill="#888888"/><circle cx="11.6" cy="90.4" r="0.5" fill="#707070"/><circle cx="12.2" cy="90.3" r="0.5" fill="#9a9a9a"/><circle cx="17.7" cy="90.8" r="0.55" fill="#9a9a9a"/><circle cx="19.8" cy="90.1" r="0.55" fill="#707070"/><circle cx="20.5" cy="90.3" r="0.5" fill="#9a9a9a"/><circle cx="23.2" cy="91.1" r="0.6" fill="#888888"/><circle cx="24.0" cy="91.1" r="0.6" fill="#888888"/><circle cx="27.9" cy="91.3" r="0.5" fill="#888888"/><circle cx="28.8" cy="91.9" r="0.6" fill="#707070"/><circle cx="33.0" cy="91.2" r="0.6" fill="#888888"/><circle cx="40.0" cy="91.1" r="0.6" fill="#707070"/><circle cx="42.6" cy="90.9" r="0.6" fill="#707070"/><circle cx="49.1" cy="91.7" r="0.5" fill="#9a9a9a"/><circle cx="50.1" cy="91.5" r="0.5" fill="#707070"/><circle cx="53.5" cy="92.0" r="0.6" fill="#888888"/><circle cx="55.0" cy="91.2" r="0.6" fill="#888888"/><circle cx="58.0" cy="90.2" r="0.5" fill="#707070"/><circle cx="59.6" cy="90.2" r="0.6" fill="#9a9a9a"/><circle cx="61.6" cy="91.8" r="0.5" fill="#888888"/><circle cx="66.0" cy="90.7" r="0.6" fill="#888888"/><circle cx="71.4" cy="91.8" r="0.55" fill="#9a9a9a"/><circle cx="72.9" cy="92.0" r="0.6" fill="#888888"/><circle cx="75.9" cy="90.1" r="0.5" fill="#888888"/><circle cx="77.3" cy="90.2" r="0.6" fill="#9a9a9a"/><circle cx="78.7" cy="91.1" r="0.55" fill="#888888"/><circle cx="85.3" cy="91.1" r="0.6" fill="#9a9a9a"/><circle cx="86.8" cy="91.1" r="0.55" fill="#707070"/><circle cx="90.2" cy="90.7" r="0.55" fill="#888888"/><circle cx="93.7" cy="90.6" r="0.55" fill="#707070"/><circle cx="95.6" cy="91.8" r="0.5" fill="#888888"/><circle cx="96.1" cy="90.9" r="0.55" fill="#9a9a9a"/><circle cx="3.9" cy="92.7" r="0.55" fill="#9a9a9a"/><circle cx="4.8" cy="92.3" r="0.55" fill="#888888"/><circle cx="6.3" cy="92.5" r="0.55" fill="#707070"/><circle cx="9.6" cy="92.9" r="0.55" fill="#707070"/><circle cx="10.5" cy="93.6" r="0.5" fill="#888888"/><circle cx="14.8" cy="93.6" r="0.5" fill="#707070"/><circle cx="17.9" cy="92.6" r="0.5" fill="#888888"/><circle cx="18.8" cy="93.6" r="0.55" fill="#707070"/><circle cx="22.3" cy="93.0" r="0.55" fill="#9a9a9a"/><circle cx="24.3" cy="93.3" r="0.55" fill="#707070"/><circle cx="30.2" cy="92.4" r="0.55" fill="#888888"/><circle cx="35.5" cy="93.5" r="0.55" fill="#707070"/><circle cx="36.5" cy="93.9" r="0.6" fill="#707070"/><circle cx="38.7" cy="93.2" r="0.6" fill="#9a9a9a"/><circle cx="40.6" cy="93.2" r="0.6" fill="#888888"/><circle cx="42.3" cy="92.9" r="0.5" fill="#707070"/><circle cx="46.9" cy="92.6" r="0.6" fill="#9a9a9a"/><circle cx="49.1" cy="93.2" r="0.5" fill="#888888"/><circle cx="51.4" cy="92.4" r="0.55" fill="#707070"/><circle cx="53.2" cy="92.1" r="0.6" fill="#9a9a9a"/><circle cx="55.3" cy="92.6" r="0.55" fill="#9a9a9a"/><circle cx="61.9" cy="93.9" r="0.55" fill="#707070"/><circle cx="64.7" cy="92.9" r="0.6" fill="#888888"/><circle cx="68.1" cy="93.7" r="0.5" fill="#888888"/><circle cx="71.6" cy="93.5" r="0.5" fill="#707070"/><circle cx="72.1" cy="93.5" r="0.5" fill="#707070"/><circle cx="75.0" cy="93.5" r="0.6" fill="#9a9a9a"/><circle cx="77.7" cy="93.7" r="0.5" fill="#9a9a9a"/><circle cx="78.5" cy="92.0" r="0.5" fill="#888888"/><circle cx="80.4" cy="93.7" r="0.55" fill="#707070"/><circle cx="83.1" cy="93.4" r="0.6" fill="#707070"/><circle cx="88.0" cy="93.3" r="0.6" fill="#707070"/><circle cx="88.1" cy="92.3" r="0.55" fill="#9a9a9a"/><circle cx="91.7" cy="93.1" r="0.55" fill="#707070"/><circle cx="92.3" cy="92.2" r="0.55" fill="#707070"/><circle cx="94.8" cy="93.9" r="0.6" fill="#888888"/><circle cx="-0.2" cy="93.6" r="0.6" fill="#888888"/><circle cx="99.8" cy="93.6" r="0.6" fill="#888888"/><circle cx="199.8" cy="93.6" r="0.6" fill="#888888"/><circle cx="2.5" cy="94.5" r="0.5" fill="#888888"/><circle cx="9.5" cy="95.5" r="0.5" fill="#9a9a9a"/><circle cx="11.7" cy="94.1" r="0.55" fill="#9a9a9a"/><circle cx="13.3" cy="94.7" r="0.55" fill="#888888"/><circle cx="14.4" cy="94.8" r="0.6" fill="#707070"/><circle cx="18.0" cy="95.8" r="0.55" fill="#707070"/><circle cx="19.0" cy="94.9" r="0.5" fill="#888888"/><circle cx="22.8" cy="95.8" r="0.55" fill="#9a9a9a"/><circle cx="24.0" cy="94.2" r="0.6" fill="#888888"/><circle cx="31.6" cy="95.3" r="0.5" fill="#9a9a9a"/><circle cx="34.0" cy="94.3" r="0.5" fill="#888888"/><circle cx="36.5" cy="94.8" r="0.5" fill="#707070"/><circle cx="41.1" cy="94.5" r="0.5" fill="#888888"/><circle cx="43.4" cy="95.1" r="0.6" fill="#707070"/><circle cx="46.5" cy="94.7" r="0.6" fill="#888888"/><circle cx="48.7" cy="95.5" r="0.55" fill="#9a9a9a"/><circle cx="55.0" cy="94.9" r="0.6" fill="#888888"/><circle cx="61.3" cy="94.6" r="0.6" fill="#888888"/><circle cx="62.4" cy="94.1" r="0.6" fill="#888888"/><circle cx="66.0" cy="95.9" r="0.5" fill="#9a9a9a"/><circle cx="73.1" cy="94.3" r="0.55" fill="#9a9a9a"/><circle cx="74.3" cy="95.7" r="0.55" fill="#888888"/><circle cx="79.7" cy="95.8" r="0.55" fill="#888888"/><circle cx="80.7" cy="94.2" r="0.6" fill="#888888"/><circle cx="82.8" cy="94.5" r="0.6" fill="#707070"/><circle cx="86.7" cy="95.7" r="0.6" fill="#707070"/><circle cx="91.6" cy="95.6" r="0.55" fill="#707070"/><circle cx="96.5" cy="95.8" r="0.6" fill="#707070"/><circle cx="98.3" cy="95.3" r="0.6" fill="#888888"/><circle cx="2.0" cy="97.3" r="0.5" fill="#9a9a9a"/><circle cx="9.5" cy="97.9" r="0.5" fill="#9a9a9a"/><circle cx="10.3" cy="96.6" r="0.6" fill="#9a9a9a"/><circle cx="12.9" cy="96.8" r="0.5" fill="#707070"/><circle cx="25.3" cy="96.9" r="0.6" fill="#888888"/><circle cx="27.6" cy="96.7" r="0.5" fill="#707070"/><circle cx="29.5" cy="97.3" r="0.55" fill="#9a9a9a"/><circle cx="32.5" cy="98.0" r="0.55" fill="#888888"/><circle cx="34.1" cy="96.3" r="0.6" fill="#707070"/><circle cx="37.3" cy="96.7" r="0.55" fill="#9a9a9a"/><circle cx="41.7" cy="96.3" r="0.6" fill="#888888"/><circle cx="44.0" cy="96.1" r="0.55" fill="#9a9a9a"/><circle cx="50.0" cy="96.7" r="0.5" fill="#9a9a9a"/><circle cx="50.3" cy="96.0" r="0.5" fill="#707070"/><circle cx="52.2" cy="96.3" r="0.6" fill="#707070"/><circle cx="61.7" cy="97.2" r="0.55" fill="#707070"/><circle cx="66.4" cy="96.3" r="0.5" fill="#707070"/><circle cx="69.0" cy="97.4" r="0.55" fill="#707070"/><circle cx="70.4" cy="97.2" r="0.5" fill="#707070"/><circle cx="79.9" cy="96.9" r="0.55" fill="#9a9a9a"/><circle cx="80.9" cy="96.2" r="0.6" fill="#888888"/><circle cx="83.2" cy="97.9" r="0.6" fill="#9a9a9a"/><circle cx="85.5" cy="96.5" r="0.6" fill="#707070"/><circle cx="89.1" cy="97.1" r="0.5" fill="#888888"/><circle cx="92.6" cy="96.3" r="0.5" fill="#888888"/><circle cx="94.4" cy="97.9" r="0.6" fill="#9a9a9a"/><circle cx="2.4" cy="98.6" r="0.5" fill="#707070"/><circle cx="4.4" cy="-1.0" r="0.6" fill="#707070"/><circle cx="4.4" cy="99.0" r="0.6" fill="#707070"/><circle cx="4.4" cy="199.0" r="0.6" fill="#707070"/><circle cx="8.0" cy="98.1" r="0.55" fill="#707070"/><circle cx="12.9" cy="98.3" r="0.55" fill="#9a9a9a"/><circle cx="18.0" cy="98.3" r="0.55" fill="#9a9a9a"/><circle cx="25.1" cy="-0.4" r="0.5" fill="#707070"/><circle cx="25.1" cy="99.6" r="0.5" fill="#707070"/><circle cx="25.1" cy="199.6" r="0.5" fill="#707070"/><circle cx="26.6" cy="-0.6" r="0.6" fill="#9a9a9a"/><circle cx="26.6" cy="99.4" r="0.6" fill="#9a9a9a"/><circle cx="26.6" cy="199.4" r="0.6" fill="#9a9a9a"/><circle cx="32.6" cy="-1.0" r="0.5" fill="#707070"/><circle cx="32.6" cy="99.0" r="0.5" fill="#707070"/><circle cx="32.6" cy="199.0" r="0.5" fill="#707070"/><circle cx="34.9" cy="98.4" r="0.5" fill="#888888"/><circle cx="37.8" cy="98.6" r="0.55" fill="#707070"/><circle cx="44.0" cy="98.7" r="0.6" fill="#9a9a9a"/><circle cx="46.7" cy="-0.6" r="0.55" fill="#9a9a9a"/><circle cx="46.7" cy="99.4" r="0.55" fill="#9a9a9a"/><circle cx="46.7" cy="199.4" r="0.55" fill="#9a9a9a"/><circle cx="50.4" cy="-0.6" r="0.5" fill="#707070"/><circle cx="50.4" cy="99.4" r="0.5" fill="#707070"/><circle cx="50.4" cy="199.4" r="0.5" fill="#707070"/><circle cx="54.6" cy="-0.1" r="0.55" fill="#707070"/><circle cx="54.6" cy="99.9" r="0.55" fill="#707070"/><circle cx="54.6" cy="199.9" r="0.55" fill="#707070"/><circle cx="56.7" cy="98.3" r="0.55" fill="#888888"/><circle cx="58.9" cy="-0.9" r="0.5" fill="#9a9a9a"/><circle cx="58.9" cy="99.1" r="0.5" fill="#9a9a9a"/><circle cx="58.9" cy="199.1" r="0.5" fill="#9a9a9a"/><circle cx="63.4" cy="98.2" r="0.5" fill="#9a9a9a"/><circle cx="66.3" cy="-0.0" r="0.55" fill="#9a9a9a"/><circle cx="66.3" cy="100.0" r="0.55" fill="#9a9a9a"/><circle cx="66.3" cy="200.0" r="0.55" fill="#9a9a9a"/><circle cx="71.7" cy="-0.9" r="0.6" fill="#9a9a9a"/><circle cx="71.7" cy="99.1" r="0.6" fill="#9a9a9a"/><circle cx="71.7" cy="199.1" r="0.6" fill="#9a9a9a"/><circle cx="74.0" cy="-0.7" r="0.6" fill="#888888"/><circle cx="74.0" cy="99.3" r="0.6" fill="#888888"/><circle cx="74.0" cy="199.3" r="0.6" fill="#888888"/><circle cx="74.3" cy="98.1" r="0.6" fill="#888888"/><circle cx="78.4" cy="98.6" r="0.6" fill="#707070"/><circle cx="83.4" cy="-0.6" r="0.5" fill="#888888"/><circle cx="83.4" cy="99.4" r="0.5" fill="#888888"/><circle cx="83.4" cy="199.4" r="0.5" fill="#888888"/><circle cx="84.7" cy="-0.6" r="0.55" fill="#707070"/><circle cx="84.7" cy="99.4" r="0.55" fill="#707070"/><circle cx="84.7" cy="199.4" r="0.55" fill="#707070"/><circle cx="86.4" cy="98.4" r="0.5" fill="#888888"/><circle cx="92.1" cy="98.4" r="0.55" fill="#9a9a9a"/><circle cx="96.2" cy="98.9" r="0.5" fill="#9a9a9a"/><circle cx="-1.0" cy="98.9" r="0.5" fill="#707070"/><circle cx="99.0" cy="98.9" r="0.5" fill="#707070"/><circle cx="199.0" cy="98.9" r="0.5" fill="#707070"/>
</pattern>
<pattern id="gr" patternUnits="userSpaceOnUse" width="48" height="48">
<rect width="48" height="48" fill="#f8f8fa"/>
<circle cx="3.1" cy="1.4" r="0.55" fill="#70707a"/><circle cx="5.4" cy="1.6" r="0.6" fill="#8a8a92"/><circle cx="6.9" cy="1.7" r="0.65" fill="#70707a"/><circle cx="9.7" cy="1.0" r="0.6" fill="#5a5a62"/><circle cx="11.8" cy="1.1" r="0.55" fill="#5a5a62"/><circle cx="12.3" cy="-47.4" r="0.6" fill="#5a5a62"/><circle cx="12.3" cy="0.6" r="0.6" fill="#5a5a62"/><circle cx="12.3" cy="48.6" r="0.6" fill="#5a5a62"/><circle cx="15.4" cy="1.9" r="0.65" fill="#8a8a92"/><circle cx="16.8" cy="1.2" r="0.6" fill="#70707a"/><circle cx="18.5" cy="-47.5" r="0.6" fill="#8a8a92"/><circle cx="18.5" cy="0.5" r="0.6" fill="#8a8a92"/><circle cx="18.5" cy="48.5" r="0.6" fill="#8a8a92"/><circle cx="21.5" cy="-47.9" r="0.65" fill="#5a5a62"/><circle cx="21.5" cy="0.1" r="0.65" fill="#5a5a62"/><circle cx="21.5" cy="48.1" r="0.65" fill="#5a5a62"/><circle cx="23.1" cy="-47.7" r="0.65" fill="#70707a"/><circle cx="23.1" cy="0.3" r="0.65" fill="#70707a"/><circle cx="23.1" cy="48.3" r="0.65" fill="#70707a"/><circle cx="24.6" cy="1.8" r="0.6" fill="#5a5a62"/><circle cx="28.8" cy="-47.8" r="0.6" fill="#5a5a62"/><circle cx="28.8" cy="0.2" r="0.6" fill="#5a5a62"/><circle cx="28.8" cy="48.2" r="0.6" fill="#5a5a62"/><circle cx="30.6" cy="1.9" r="0.6" fill="#70707a"/><circle cx="33.6" cy="1.1" r="0.55" fill="#70707a"/><circle cx="34.3" cy="1.1" r="0.55" fill="#5a5a62"/><circle cx="37.6" cy="1.4" r="0.65" fill="#8a8a92"/><circle cx="38.4" cy="1.9" r="0.55" fill="#8a8a92"/><circle cx="40.2" cy="1.2" r="0.55" fill="#5a5a62"/><circle cx="45.6" cy="-47.6" r="0.65" fill="#5a5a62"/><circle cx="45.6" cy="0.4" r="0.65" fill="#5a5a62"/><circle cx="45.6" cy="48.4" r="0.65" fill="#5a5a62"/><circle cx="-0.5" cy="-47.8" r="0.6" fill="#5a5a62"/><circle cx="-0.5" cy="0.2" r="0.6" fill="#5a5a62"/><circle cx="-0.5" cy="48.2" r="0.6" fill="#5a5a62"/><circle cx="47.5" cy="-47.8" r="0.6" fill="#5a5a62"/><circle cx="47.5" cy="0.2" r="0.6" fill="#5a5a62"/><circle cx="47.5" cy="48.2" r="0.6" fill="#5a5a62"/><circle cx="95.5" cy="-47.8" r="0.6" fill="#5a5a62"/><circle cx="95.5" cy="0.2" r="0.6" fill="#5a5a62"/><circle cx="95.5" cy="48.2" r="0.6" fill="#5a5a62"/><circle cx="-47.2" cy="2.0" r="0.65" fill="#70707a"/><circle cx="0.8" cy="2.0" r="0.65" fill="#70707a"/><circle cx="48.8" cy="2.0" r="0.65" fill="#70707a"/><circle cx="2.6" cy="2.5" r="0.65" fill="#5a5a62"/><circle cx="6.0" cy="3.5" r="0.55" fill="#70707a"/><circle cx="6.9" cy="2.8" r="0.65" fill="#8a8a92"/><circle cx="9.8" cy="3.4" r="0.6" fill="#70707a"/><circle cx="10.2" cy="2.1" r="0.55" fill="#70707a"/><circle cx="13.4" cy="2.3" r="0.65" fill="#8a8a92"/><circle cx="15.6" cy="3.2" r="0.55" fill="#8a8a92"/><circle cx="17.2" cy="2.3" r="0.55" fill="#8a8a92"/><circle cx="19.2" cy="3.9" r="0.65" fill="#8a8a92"/><circle cx="21.1" cy="2.8" r="0.6" fill="#8a8a92"/><circle cx="22.4" cy="2.2" r="0.65" fill="#70707a"/><circle cx="25.6" cy="3.4" r="0.55" fill="#8a8a92"/><circle cx="29.9" cy="2.2" r="0.55" fill="#5a5a62"/><circle cx="31.0" cy="2.6" r="0.55" fill="#5a5a62"/><circle cx="32.4" cy="3.3" r="0.55" fill="#70707a"/><circle cx="34.8" cy="3.2" r="0.65" fill="#8a8a92"/><circle cx="38.0" cy="2.8" r="0.65" fill="#8a8a92"/><circle cx="38.8" cy="3.5" r="0.55" fill="#5a5a62"/><circle cx="41.7" cy="2.8" r="0.65" fill="#8a8a92"/><circle cx="42.8" cy="3.5" r="0.65" fill="#70707a"/><circle cx="-0.4" cy="3.4" r="0.55" fill="#5a5a62"/><circle cx="47.6" cy="3.4" r="0.55" fill="#5a5a62"/><circle cx="95.6" cy="3.4" r="0.55" fill="#5a5a62"/><circle cx="2.7" cy="5.4" r="0.55" fill="#5a5a62"/><circle cx="5.5" cy="5.4" r="0.65" fill="#70707a"/><circle cx="6.7" cy="4.6" r="0.65" fill="#5a5a62"/><circle cx="9.7" cy="5.7" r="0.55" fill="#5a5a62"/><circle cx="10.5" cy="5.4" r="0.65" fill="#5a5a62"/><circle cx="12.7" cy="4.3" r="0.65" fill="#8a8a92"/><circle cx="15.8" cy="4.2" r="0.6" fill="#8a8a92"/><circle cx="17.9" cy="5.5" r="0.6" fill="#8a8a92"/><circle cx="18.4" cy="4.5" r="0.55" fill="#5a5a62"/><circle cx="21.6" cy="4.5" r="0.55" fill="#5a5a62"/><circle cx="22.6" cy="5.5" r="0.55" fill="#70707a"/><circle cx="24.8" cy="5.7" r="0.65" fill="#70707a"/><circle cx="28.1" cy="5.3" r="0.65" fill="#8a8a92"/><circle cx="30.6" cy="5.7" r="0.55" fill="#8a8a92"/><circle cx="33.6" cy="5.0" r="0.55" fill="#8a8a92"/><circle cx="35.5" cy="4.9" r="0.65" fill="#8a8a92"/><circle cx="37.9" cy="4.2" r="0.6" fill="#70707a"/><circle cx="38.0" cy="4.1" r="0.65" fill="#8a8a92"/><circle cx="40.5" cy="5.0" r="0.6" fill="#8a8a92"/><circle cx="42.7" cy="5.7" r="0.55" fill="#70707a"/><circle cx="45.0" cy="4.4" r="0.6" fill="#70707a"/><circle cx="46.2" cy="5.0" r="0.55" fill="#8a8a92"/><circle cx="-47.8" cy="7.7" r="0.6" fill="#8a8a92"/><circle cx="0.2" cy="7.7" r="0.6" fill="#8a8a92"/><circle cx="48.2" cy="7.7" r="0.6" fill="#8a8a92"/><circle cx="2.2" cy="7.3" r="0.55" fill="#5a5a62"/><circle cx="5.1" cy="6.6" r="0.65" fill="#70707a"/><circle cx="6.1" cy="7.8" r="0.55" fill="#5a5a62"/><circle cx="8.7" cy="6.3" r="0.6" fill="#70707a"/><circle cx="11.4" cy="6.2" r="0.65" fill="#70707a"/><circle cx="13.3" cy="7.7" r="0.6" fill="#70707a"/><circle cx="15.1" cy="7.6" r="0.55" fill="#5a5a62"/><circle cx="16.3" cy="6.9" r="0.6" fill="#70707a"/><circle cx="18.4" cy="7.1" r="0.55" fill="#70707a"/><circle cx="21.6" cy="6.8" r="0.65" fill="#5a5a62"/><circle cx="22.8" cy="6.2" r="0.6" fill="#8a8a92"/><circle cx="24.5" cy="7.3" r="0.55" fill="#8a8a92"/><circle cx="26.4" cy="7.0" r="0.6" fill="#70707a"/><circle cx="29.7" cy="7.0" r="0.65" fill="#5a5a62"/><circle cx="30.5" cy="6.8" r="0.55" fill="#8a8a92"/><circle cx="32.7" cy="6.9" r="0.65" fill="#70707a"/><circle cx="34.7" cy="8.0" r="0.6" fill="#5a5a62"/><circle cx="37.6" cy="7.5" r="0.6" fill="#8a8a92"/><circle cx="38.7" cy="7.9" r="0.55" fill="#70707a"/><circle cx="40.7" cy="7.5" r="0.65" fill="#70707a"/><circle cx="43.2" cy="7.8" r="0.65" fill="#8a8a92"/><circle cx="45.0" cy="6.5" r="0.65" fill="#5a5a62"/><circle cx="-0.7" cy="7.2" r="0.55" fill="#5a5a62"/><circle cx="47.3" cy="7.2" r="0.55" fill="#5a5a62"/><circle cx="95.3" cy="7.2" r="0.55" fill="#5a5a62"/><circle cx="1.3" cy="9.3" r="0.65" fill="#70707a"/><circle cx="2.2" cy="9.3" r="0.55" fill="#5a5a62"/><circle cx="5.7" cy="9.0" r="0.65" fill="#5a5a62"/><circle cx="7.6" cy="9.6" r="0.6" fill="#8a8a92"/><circle cx="8.9" cy="8.9" r="0.65" fill="#5a5a62"/><circle cx="12.4" cy="8.2" r="0.6" fill="#70707a"/><circle cx="16.0" cy="8.8" r="0.6" fill="#5a5a62"/><circle cx="16.5" cy="8.4" r="0.55" fill="#70707a"/><circle cx="19.7" cy="8.3" r="0.6" fill="#70707a"/><circle cx="20.7" cy="9.5" r="0.6" fill="#70707a"/><circle cx="22.9" cy="9.0" r="0.55" fill="#8a8a92"/><circle cx="24.5" cy="9.6" r="0.65" fill="#8a8a92"/><circle cx="26.6" cy="9.8" r="0.65" fill="#70707a"/><circle cx="29.3" cy="8.6" r="0.6" fill="#70707a"/><circle cx="30.8" cy="9.4" r="0.55" fill="#5a5a62"/><circle cx="32.6" cy="8.2" r="0.6" fill="#5a5a62"/><circle cx="35.6" cy="8.8" r="0.55" fill="#70707a"/><circle cx="36.6" cy="10.0" r="0.65" fill="#8a8a92"/><circle cx="38.6" cy="8.4" r="0.65" fill="#5a5a62"/><circle cx="41.8" cy="9.6" r="0.6" fill="#8a8a92"/><circle cx="43.6" cy="9.2" r="0.55" fill="#8a8a92"/><circle cx="44.2" cy="9.3" r="0.55" fill="#8a8a92"/><circle cx="1.6" cy="10.6" r="0.55" fill="#8a8a92"/><circle cx="3.4" cy="10.1" r="0.55" fill="#70707a"/><circle cx="4.4" cy="11.3" r="0.65" fill="#70707a"/><circle cx="7.9" cy="10.5" r="0.65" fill="#70707a"/><circle cx="9.5" cy="11.0" r="0.55" fill="#8a8a92"/><circle cx="10.2" cy="11.4" r="0.65" fill="#70707a"/><circle cx="14.0" cy="10.7" r="0.6" fill="#5a5a62"/><circle cx="15.5" cy="11.1" r="0.6" fill="#8a8a92"/><circle cx="17.7" cy="10.7" r="0.65" fill="#8a8a92"/><circle cx="18.8" cy="11.6" r="0.55" fill="#70707a"/><circle cx="20.8" cy="10.2" r="0.65" fill="#5a5a62"/><circle cx="24.0" cy="11.8" r="0.65" fill="#8a8a92"/><circle cx="25.1" cy="10.4" r="0.55" fill="#5a5a62"/><circle cx="26.3" cy="11.1" r="0.55" fill="#70707a"/><circle cx="28.7" cy="10.6" r="0.55" fill="#70707a"/><circle cx="34.0" cy="11.4" r="0.55" fill="#70707a"/><circle cx="34.9" cy="10.7" r="0.65" fill="#70707a"/><circle cx="36.9" cy="10.5" r="0.55" fill="#5a5a62"/><circle cx="38.5" cy="11.8" r="0.65" fill="#70707a"/><circle cx="41.7" cy="10.5" r="0.6" fill="#70707a"/><circle cx="44.4" cy="10.8" r="0.6" fill="#8a8a92"/><circle cx="-47.2" cy="12.9" r="0.65" fill="#8a8a92"/><circle cx="0.8" cy="12.9" r="0.65" fill="#8a8a92"/><circle cx="48.8" cy="12.9" r="0.65" fill="#8a8a92"/><circle cx="3.8" cy="13.0" r="0.65" fill="#5a5a62"/><circle cx="5.3" cy="13.7" r="0.55" fill="#8a8a92"/><circle cx="6.4" cy="13.0" r="0.6" fill="#8a8a92"/><circle cx="8.4" cy="12.8" r="0.6" fill="#70707a"/><circle cx="11.4" cy="13.0" r="0.55" fill="#70707a"/><circle cx="13.4" cy="13.3" r="0.65" fill="#5a5a62"/><circle cx="14.4" cy="13.1" r="0.55" fill="#5a5a62"/><circle cx="17.9" cy="14.0" r="0.65" fill="#70707a"/><circle cx="19.7" cy="13.6" r="0.55" fill="#8a8a92"/><circle cx="21.1" cy="12.6" r="0.55" fill="#70707a"/><circle cx="22.9" cy="13.3" r="0.65" fill="#8a8a92"/><circle cx="25.9" cy="12.6" r="0.55" fill="#70707a"/><circle cx="26.8" cy="13.6" r="0.6" fill="#70707a"/><circle cx="29.4" cy="13.7" r="0.55" fill="#5a5a62"/><circle cx="31.4" cy="12.4" r="0.6" fill="#70707a"/><circle cx="32.2" cy="12.5" r="0.6" fill="#8a8a92"/><circle cx="34.4" cy="12.6" r="0.65" fill="#8a8a92"/><circle cx="37.0" cy="13.3" r="0.55" fill="#5a5a62"/><circle cx="38.5" cy="12.1" r="0.55" fill="#8a8a92"/><circle cx="40.1" cy="13.2" r="0.65" fill="#5a5a62"/><circle cx="42.9" cy="12.9" r="0.6" fill="#8a8a92"/><circle cx="47.0" cy="12.8" r="0.65" fill="#70707a"/><circle cx="1.9" cy="14.4" r="0.6" fill="#5a5a62"/><circle cx="6.2" cy="14.5" r="0.65" fill="#5a5a62"/><circle cx="8.4" cy="14.3" r="0.55" fill="#8a8a92"/><circle cx="11.2" cy="15.5" r="0.6" fill="#70707a"/><circle cx="13.5" cy="16.0" r="0.65" fill="#8a8a92"/><circle cx="15.7" cy="15.6" r="0.55" fill="#70707a"/><circle cx="16.8" cy="15.9" r="0.6" fill="#5a5a62"/><circle cx="19.4" cy="15.7" r="0.55" fill="#8a8a92"/><circle cx="20.0" cy="14.2" r="0.55" fill="#5a5a62"/><circle cx="23.7" cy="15.0" r="0.6" fill="#8a8a92"/><circle cx="25.8" cy="15.4" r="0.6" fill="#70707a"/><circle cx="27.7" cy="15.3" r="0.65" fill="#5a5a62"/><circle cx="28.1" cy="14.7" r="0.65" fill="#8a8a92"/><circle cx="31.8" cy="14.5" r="0.55" fill="#8a8a92"/><circle cx="33.7" cy="15.0" r="0.65" fill="#8a8a92"/><circle cx="34.4" cy="15.4" r="0.55" fill="#8a8a92"/><circle cx="39.9" cy="14.2" r="0.6" fill="#8a8a92"/><circle cx="40.6" cy="14.5" r="0.6" fill="#5a5a62"/><circle cx="42.7" cy="16.0" r="0.65" fill="#5a5a62"/><circle cx="46.0" cy="14.8" r="0.6" fill="#8a8a92"/><circle cx="2.4" cy="17.0" r="0.65" fill="#8a8a92"/><circle cx="5.6" cy="17.1" r="0.6" fill="#5a5a62"/><circle cx="6.7" cy="16.1" r="0.65" fill="#8a8a92"/><circle cx="8.9" cy="17.3" r="0.55" fill="#8a8a92"/><circle cx="11.2" cy="16.2" r="0.6" fill="#8a8a92"/><circle cx="13.9" cy="16.9" r="0.6" fill="#5a5a62"/><circle cx="15.7" cy="17.5" r="0.6" fill="#8a8a92"/><circle cx="16.7" cy="16.8" r="0.55" fill="#8a8a92"/><circle cx="20.1" cy="17.0" r="0.55" fill="#8a8a92"/><circle cx="23.6" cy="18.0" r="0.65" fill="#5a5a62"/><circle cx="24.4" cy="16.8" r="0.55" fill="#8a8a92"/><circle cx="26.5" cy="16.4" r="0.55" fill="#70707a"/><circle cx="28.7" cy="18.0" r="0.6" fill="#70707a"/><circle cx="30.7" cy="17.5" r="0.55" fill="#70707a"/><circle cx="32.5" cy="17.5" r="0.6" fill="#5a5a62"/><circle cx="35.4" cy="17.0" r="0.65" fill="#5a5a62"/><circle cx="36.9" cy="16.7" r="0.65" fill="#70707a"/><circle cx="38.1" cy="17.8" r="0.55" fill="#8a8a92"/><circle cx="41.6" cy="18.0" r="0.6" fill="#5a5a62"/><circle cx="42.8" cy="16.4" r="0.65" fill="#5a5a62"/><circle cx="45.7" cy="16.8" r="0.65" fill="#5a5a62"/><circle cx="-0.2" cy="17.8" r="0.6" fill="#5a5a62"/><circle cx="47.8" cy="17.8" r="0.6" fill="#5a5a62"/><circle cx="95.8" cy="17.8" r="0.6" fill="#5a5a62"/><circle cx="1.3" cy="19.4" r="0.65" fill="#8a8a92"/><circle cx="3.2" cy="19.0" r="0.65" fill="#8a8a92"/><circle cx="5.1" cy="19.2" r="0.6" fill="#70707a"/><circle cx="9.0" cy="19.3" r="0.65" fill="#8a8a92"/><circle cx="11.2" cy="20.0" r="0.6" fill="#70707a"/><circle cx="12.7" cy="18.4" r="0.65" fill="#8a8a92"/><circle cx="14.8" cy="19.6" r="0.65" fill="#8a8a92"/><circle cx="16.0" cy="19.7" r="0.65" fill="#5a5a62"/><circle cx="18.9" cy="18.9" r="0.55" fill="#5a5a62"/><circle cx="20.1" cy="19.0" r="0.55" fill="#70707a"/><circle cx="23.0" cy="18.9" r="0.6" fill="#5a5a62"/><circle cx="24.1" cy="18.0" r="0.65" fill="#8a8a92"/><circle cx="26.2" cy="19.8" r="0.55" fill="#5a5a62"/><circle cx="29.9" cy="18.7" r="0.55" fill="#70707a"/><circle cx="30.8" cy="19.4" r="0.6" fill="#70707a"/><circle cx="33.7" cy="19.5" r="0.55" fill="#5a5a62"/><circle cx="34.4" cy="18.7" r="0.6" fill="#8a8a92"/><circle cx="39.7" cy="20.0" r="0.6" fill="#70707a"/><circle cx="40.2" cy="19.1" r="0.65" fill="#70707a"/><circle cx="42.0" cy="18.6" r="0.55" fill="#70707a"/><circle cx="44.0" cy="18.6" r="0.65" fill="#5a5a62"/><circle cx="-0.4" cy="19.5" r="0.65" fill="#70707a"/><circle cx="47.6" cy="19.5" r="0.65" fill="#70707a"/><circle cx="95.6" cy="19.5" r="0.65" fill="#70707a"/><circle cx="-47.8" cy="21.0" r="0.6" fill="#5a5a62"/><circle cx="0.2" cy="21.0" r="0.6" fill="#5a5a62"/><circle cx="48.2" cy="21.0" r="0.6" fill="#5a5a62"/><circle cx="3.7" cy="20.7" r="0.6" fill="#8a8a92"/><circle cx="5.7" cy="21.4" r="0.6" fill="#5a5a62"/><circle cx="6.1" cy="22.0" r="0.65" fill="#70707a"/><circle cx="11.6" cy="21.9" r="0.55" fill="#8a8a92"/><circle cx="13.7" cy="21.3" r="0.55" fill="#5a5a62"/><circle cx="14.2" cy="21.8" r="0.55" fill="#5a5a62"/><circle cx="17.9" cy="20.8" r="0.65" fill="#5a5a62"/><circle cx="18.4" cy="21.8" r="0.6" fill="#5a5a62"/><circle cx="22.6" cy="21.7" r="0.55" fill="#70707a"/><circle cx="25.9" cy="20.4" r="0.55" fill="#8a8a92"/><circle cx="26.8" cy="20.1" r="0.65" fill="#70707a"/><circle cx="28.1" cy="21.1" r="0.55" fill="#8a8a92"/><circle cx="34.9" cy="20.5" r="0.65" fill="#5a5a62"/><circle cx="37.4" cy="20.7" r="0.6" fill="#70707a"/><circle cx="38.9" cy="21.9" r="0.65" fill="#70707a"/><circle cx="41.0" cy="22.0" r="0.6" fill="#70707a"/><circle cx="43.1" cy="21.8" r="0.65" fill="#5a5a62"/><circle cx="44.8" cy="21.6" r="0.6" fill="#70707a"/><circle cx="-0.7" cy="21.8" r="0.65" fill="#8a8a92"/><circle cx="47.3" cy="21.8" r="0.65" fill="#8a8a92"/><circle cx="95.3" cy="21.8" r="0.65" fill="#8a8a92"/><circle cx="2.5" cy="23.6" r="0.6" fill="#8a8a92"/><circle cx="4.2" cy="23.7" r="0.55" fill="#5a5a62"/><circle cx="6.5" cy="23.1" r="0.6" fill="#5a5a62"/><circle cx="9.1" cy="23.8" r="0.65" fill="#8a8a92"/><circle cx="10.1" cy="23.8" r="0.6" fill="#8a8a92"/><circle cx="13.6" cy="22.3" r="0.55" fill="#5a5a62"/><circle cx="14.3" cy="23.6" r="0.6" fill="#70707a"/><circle cx="17.0" cy="23.8" r="0.6" fill="#8a8a92"/><circle cx="20.8" cy="23.5" r="0.65" fill="#5a5a62"/><circle cx="22.9" cy="23.4" r="0.55" fill="#8a8a92"/><circle cx="24.9" cy="23.1" r="0.55" fill="#70707a"/><circle cx="27.7" cy="23.6" r="0.55" fill="#70707a"/><circle cx="29.9" cy="23.8" r="0.55" fill="#8a8a92"/><circle cx="31.3" cy="22.6" r="0.65" fill="#70707a"/><circle cx="32.1" cy="22.5" r="0.65" fill="#70707a"/><circle cx="34.7" cy="22.8" r="0.55" fill="#8a8a92"/><circle cx="36.9" cy="23.8" r="0.65" fill="#5a5a62"/><circle cx="41.6" cy="22.0" r="0.65" fill="#8a8a92"/><circle cx="43.5" cy="23.6" r="0.6" fill="#70707a"/><circle cx="45.2" cy="22.6" r="0.55" fill="#8a8a92"/><circle cx="-0.0" cy="23.5" r="0.6" fill="#70707a"/><circle cx="48.0" cy="23.5" r="0.6" fill="#70707a"/><circle cx="96.0" cy="23.5" r="0.6" fill="#70707a"/><circle cx="-47.1" cy="24.2" r="0.65" fill="#70707a"/><circle cx="0.9" cy="24.2" r="0.65" fill="#70707a"/><circle cx="48.9" cy="24.2" r="0.65" fill="#70707a"/><circle cx="3.4" cy="25.7" r="0.55" fill="#70707a"/><circle cx="4.1" cy="25.5" r="0.6" fill="#5a5a62"/><circle cx="6.9" cy="26.0" r="0.65" fill="#5a5a62"/><circle cx="10.7" cy="24.9" r="0.65" fill="#5a5a62"/><circle cx="13.1" cy="25.6" r="0.65" fill="#5a5a62"/><circle cx="16.2" cy="25.7" r="0.6" fill="#5a5a62"/><circle cx="18.4" cy="24.4" r="0.65" fill="#70707a"/><circle cx="21.7" cy="25.0" r="0.65" fill="#70707a"/><circle cx="23.1" cy="24.2" r="0.55" fill="#70707a"/><circle cx="25.2" cy="24.5" r="0.6" fill="#5a5a62"/><circle cx="27.9" cy="25.5" r="0.6" fill="#5a5a62"/><circle cx="29.9" cy="25.4" r="0.55" fill="#8a8a92"/><circle cx="31.4" cy="25.5" r="0.55" fill="#8a8a92"/><circle cx="32.3" cy="25.3" r="0.55" fill="#8a8a92"/><circle cx="35.6" cy="24.5" r="0.55" fill="#8a8a92"/><circle cx="37.0" cy="25.2" r="0.6" fill="#70707a"/><circle cx="39.4" cy="25.6" r="0.6" fill="#5a5a62"/><circle cx="41.4" cy="24.5" r="0.65" fill="#8a8a92"/><circle cx="42.4" cy="24.2" r="0.6" fill="#8a8a92"/><circle cx="44.5" cy="25.9" r="0.65" fill="#5a5a62"/><circle cx="-0.1" cy="25.7" r="0.65" fill="#8a8a92"/><circle cx="47.9" cy="25.7" r="0.65" fill="#8a8a92"/><circle cx="95.9" cy="25.7" r="0.65" fill="#8a8a92"/><circle cx="-47.8" cy="27.6" r="0.6" fill="#5a5a62"/><circle cx="0.2" cy="27.6" r="0.6" fill="#5a5a62"/><circle cx="48.2" cy="27.6" r="0.6" fill="#5a5a62"/><circle cx="3.1" cy="27.9" r="0.65" fill="#70707a"/><circle cx="7.9" cy="26.2" r="0.6" fill="#70707a"/><circle cx="9.3" cy="26.4" r="0.55" fill="#5a5a62"/><circle cx="11.0" cy="26.8" r="0.55" fill="#5a5a62"/><circle cx="13.5" cy="27.3" r="0.6" fill="#70707a"/><circle cx="15.2" cy="27.5" r="0.65" fill="#5a5a62"/><circle cx="18.0" cy="26.4" r="0.6" fill="#8a8a92"/><circle cx="19.2" cy="26.6" r="0.6" fill="#8a8a92"/><circle cx="21.2" cy="27.7" r="0.65" fill="#8a8a92"/><circle cx="23.3" cy="27.7" r="0.55" fill="#5a5a62"/><circle cx="25.9" cy="26.8" r="0.55" fill="#8a8a92"/><circle cx="26.1" cy="27.0" r="0.65" fill="#70707a"/><circle cx="28.9" cy="26.5" r="0.55" fill="#8a8a92"/><circle cx="32.9" cy="27.0" r="0.55" fill="#5a5a62"/><circle cx="34.2" cy="27.6" r="0.6" fill="#70707a"/><circle cx="36.1" cy="26.2" r="0.65" fill="#70707a"/><circle cx="39.8" cy="26.9" r="0.65" fill="#70707a"/><circle cx="40.2" cy="26.5" r="0.65" fill="#8a8a92"/><circle cx="42.9" cy="26.2" r="0.6" fill="#8a8a92"/><circle cx="44.0" cy="27.7" r="0.65" fill="#70707a"/><circle cx="-0.8" cy="26.1" r="0.55" fill="#8a8a92"/><circle cx="47.2" cy="26.1" r="0.55" fill="#8a8a92"/><circle cx="95.2" cy="26.1" r="0.55" fill="#8a8a92"/><circle cx="-47.5" cy="28.2" r="0.6" fill="#5a5a62"/><circle cx="0.5" cy="28.2" r="0.6" fill="#5a5a62"/><circle cx="48.5" cy="28.2" r="0.6" fill="#5a5a62"/><circle cx="2.7" cy="28.6" r="0.65" fill="#8a8a92"/><circle cx="7.9" cy="28.6" r="0.65" fill="#70707a"/><circle cx="8.0" cy="29.0" r="0.6" fill="#5a5a62"/><circle cx="10.2" cy="29.3" r="0.55" fill="#8a8a92"/><circle cx="12.4" cy="29.6" r="0.55" fill="#70707a"/><circle cx="14.8" cy="29.2" r="0.6" fill="#70707a"/><circle cx="18.0" cy="29.3" r="0.55" fill="#70707a"/><circle cx="19.1" cy="29.8" r="0.6" fill="#70707a"/><circle cx="21.4" cy="29.2" r="0.6" fill="#8a8a92"/><circle cx="22.5" cy="28.2" r="0.6" fill="#8a8a92"/><circle cx="25.5" cy="28.8" r="0.6" fill="#5a5a62"/><circle cx="26.4" cy="29.7" r="0.6" fill="#8a8a92"/><circle cx="31.1" cy="29.9" r="0.6" fill="#8a8a92"/><circle cx="35.4" cy="28.5" r="0.65" fill="#5a5a62"/><circle cx="36.4" cy="28.8" r="0.55" fill="#5a5a62"/><circle cx="38.6" cy="28.9" r="0.55" fill="#5a5a62"/><circle cx="40.8" cy="28.7" r="0.55" fill="#8a8a92"/><circle cx="43.1" cy="29.0" r="0.6" fill="#5a5a62"/><circle cx="45.0" cy="28.9" r="0.55" fill="#8a8a92"/><circle cx="-0.0" cy="29.6" r="0.6" fill="#8a8a92"/><circle cx="48.0" cy="29.6" r="0.6" fill="#8a8a92"/><circle cx="96.0" cy="29.6" r="0.6" fill="#8a8a92"/><circle cx="2.0" cy="31.6" r="0.65" fill="#5a5a62"/><circle cx="2.1" cy="31.2" r="0.65" fill="#8a8a92"/><circle cx="5.1" cy="30.2" r="0.55" fill="#70707a"/><circle cx="6.5" cy="30.8" r="0.65" fill="#5a5a62"/><circle cx="8.4" cy="30.4" r="0.65" fill="#8a8a92"/><circle cx="10.0" cy="31.0" r="0.6" fill="#5a5a62"/><circle cx="13.0" cy="30.1" r="0.6" fill="#8a8a92"/><circle cx="19.8" cy="31.9" r="0.65" fill="#8a8a92"/><circle cx="20.2" cy="30.4" r="0.65" fill="#70707a"/><circle cx="23.0" cy="31.0" r="0.6" fill="#8a8a92"/><circle cx="25.9" cy="31.9" r="0.6" fill="#5a5a62"/><circle cx="26.5" cy="30.5" r="0.65" fill="#70707a"/><circle cx="28.5" cy="30.1" r="0.55" fill="#5a5a62"/><circle cx="31.7" cy="31.5" r="0.65" fill="#5a5a62"/><circle cx="33.1" cy="31.5" r="0.6" fill="#70707a"/><circle cx="35.3" cy="30.1" r="0.6" fill="#8a8a92"/><circle cx="36.4" cy="30.5" r="0.55" fill="#5a5a62"/><circle cx="38.8" cy="31.5" r="0.55" fill="#8a8a92"/><circle cx="41.7" cy="31.8" r="0.55" fill="#70707a"/><circle cx="42.2" cy="30.6" r="0.6" fill="#70707a"/><circle cx="45.0" cy="31.4" r="0.55" fill="#70707a"/><circle cx="46.6" cy="31.0" r="0.55" fill="#5a5a62"/><circle cx="1.8" cy="33.7" r="0.6" fill="#5a5a62"/><circle cx="3.4" cy="33.2" r="0.6" fill="#70707a"/><circle cx="4.1" cy="33.4" r="0.55" fill="#5a5a62"/><circle cx="6.0" cy="33.5" r="0.55" fill="#5a5a62"/><circle cx="9.7" cy="32.2" r="0.6" fill="#8a8a92"/><circle cx="12.1" cy="32.7" r="0.6" fill="#5a5a62"/><circle cx="15.7" cy="32.4" r="0.55" fill="#5a5a62"/><circle cx="16.9" cy="33.5" r="0.55" fill="#5a5a62"/><circle cx="18.4" cy="32.1" r="0.6" fill="#70707a"/><circle cx="21.6" cy="33.6" r="0.55" fill="#5a5a62"/><circle cx="23.1" cy="33.4" r="0.55" fill="#8a8a92"/><circle cx="24.0" cy="33.7" r="0.6" fill="#70707a"/><circle cx="26.1" cy="34.0" r="0.55" fill="#8a8a92"/><circle cx="28.7" cy="32.7" r="0.6" fill="#8a8a92"/><circle cx="31.2" cy="32.5" r="0.55" fill="#5a5a62"/><circle cx="32.1" cy="33.5" r="0.55" fill="#70707a"/><circle cx="35.0" cy="33.0" r="0.6" fill="#70707a"/><circle cx="36.6" cy="32.0" r="0.65" fill="#5a5a62"/><circle cx="39.3" cy="32.9" r="0.55" fill="#5a5a62"/><circle cx="41.4" cy="32.8" r="0.65" fill="#5a5a62"/><circle cx="42.9" cy="33.7" r="0.55" fill="#8a8a92"/><circle cx="45.8" cy="32.7" r="0.55" fill="#70707a"/><circle cx="46.6" cy="32.8" r="0.65" fill="#70707a"/><circle cx="1.2" cy="35.6" r="0.65" fill="#70707a"/><circle cx="4.5" cy="34.2" r="0.6" fill="#8a8a92"/><circle cx="6.2" cy="34.7" r="0.55" fill="#8a8a92"/><circle cx="8.0" cy="35.0" r="0.55" fill="#8a8a92"/><circle cx="10.7" cy="34.6" r="0.65" fill="#5a5a62"/><circle cx="12.6" cy="35.9" r="0.65" fill="#8a8a92"/><circle cx="15.0" cy="34.3" r="0.6" fill="#70707a"/><circle cx="17.9" cy="34.7" r="0.65" fill="#5a5a62"/><circle cx="22.5" cy="34.3" r="0.6" fill="#70707a"/><circle cx="24.6" cy="34.3" r="0.65" fill="#5a5a62"/><circle cx="26.7" cy="34.0" r="0.55" fill="#5a5a62"/><circle cx="29.7" cy="35.9" r="0.6" fill="#8a8a92"/><circle cx="31.6" cy="35.7" r="0.65" fill="#70707a"/><circle cx="33.3" cy="34.8" r="0.65" fill="#70707a"/><circle cx="34.3" cy="34.1" r="0.55" fill="#8a8a92"/><circle cx="37.6" cy="35.4" r="0.6" fill="#8a8a92"/><circle cx="38.8" cy="35.6" r="0.6" fill="#70707a"/><circle cx="41.5" cy="34.2" r="0.6" fill="#8a8a92"/><circle cx="42.8" cy="34.2" r="0.65" fill="#70707a"/><circle cx="44.7" cy="34.2" r="0.55" fill="#5a5a62"/><circle cx="-47.7" cy="36.1" r="0.55" fill="#8a8a92"/><circle cx="0.3" cy="36.1" r="0.55" fill="#8a8a92"/><circle cx="48.3" cy="36.1" r="0.55" fill="#8a8a92"/><circle cx="4.2" cy="36.6" r="0.55" fill="#5a5a62"/><circle cx="7.2" cy="36.8" r="0.65" fill="#5a5a62"/><circle cx="9.3" cy="36.6" r="0.6" fill="#70707a"/><circle cx="10.2" cy="37.6" r="0.6" fill="#5a5a62"/><circle cx="12.4" cy="37.2" r="0.55" fill="#70707a"/><circle cx="14.7" cy="36.7" r="0.6" fill="#70707a"/><circle cx="17.0" cy="36.5" r="0.6" fill="#70707a"/><circle cx="19.1" cy="37.0" r="0.55" fill="#8a8a92"/><circle cx="20.2" cy="37.8" r="0.55" fill="#5a5a62"/><circle cx="23.8" cy="36.9" r="0.55" fill="#8a8a92"/><circle cx="24.6" cy="36.6" r="0.6" fill="#8a8a92"/><circle cx="29.8" cy="37.0" r="0.65" fill="#5a5a62"/><circle cx="31.8" cy="36.1" r="0.6" fill="#8a8a92"/><circle cx="32.6" cy="36.1" r="0.6" fill="#8a8a92"/><circle cx="34.1" cy="36.7" r="0.55" fill="#5a5a62"/><circle cx="36.6" cy="36.4" r="0.55" fill="#70707a"/><circle cx="39.4" cy="36.9" r="0.55" fill="#8a8a92"/><circle cx="41.8" cy="36.2" r="0.6" fill="#5a5a62"/><circle cx="42.1" cy="37.6" r="0.65" fill="#70707a"/><circle cx="45.9" cy="36.0" r="0.55" fill="#70707a"/><circle cx="-1.0" cy="36.7" r="0.55" fill="#70707a"/><circle cx="47.0" cy="36.7" r="0.55" fill="#70707a"/><circle cx="95.0" cy="36.7" r="0.55" fill="#70707a"/><circle cx="-47.2" cy="38.4" r="0.55" fill="#8a8a92"/><circle cx="0.8" cy="38.4" r="0.55" fill="#8a8a92"/><circle cx="48.8" cy="38.4" r="0.55" fill="#8a8a92"/><circle cx="5.7" cy="39.1" r="0.55" fill="#5a5a62"/><circle cx="7.5" cy="38.5" r="0.55" fill="#5a5a62"/><circle cx="9.7" cy="39.5" r="0.6" fill="#5a5a62"/><circle cx="11.0" cy="39.0" r="0.6" fill="#8a8a92"/><circle cx="13.2" cy="39.0" r="0.65" fill="#8a8a92"/><circle cx="15.5" cy="39.1" r="0.6" fill="#5a5a62"/><circle cx="17.8" cy="38.5" r="0.55" fill="#8a8a92"/><circle cx="18.7" cy="39.6" r="0.55" fill="#8a8a92"/><circle cx="20.6" cy="38.2" r="0.65" fill="#70707a"/><circle cx="23.8" cy="39.2" r="0.55" fill="#5a5a62"/><circle cx="24.3" cy="39.1" r="0.65" fill="#8a8a92"/><circle cx="27.1" cy="38.5" r="0.55" fill="#70707a"/><circle cx="28.3" cy="39.3" r="0.6" fill="#8a8a92"/><circle cx="30.7" cy="38.4" r="0.65" fill="#8a8a92"/><circle cx="33.6" cy="39.6" r="0.55" fill="#70707a"/><circle cx="34.4" cy="38.1" r="0.65" fill="#5a5a62"/><circle cx="37.0" cy="38.0" r="0.6" fill="#5a5a62"/><circle cx="38.0" cy="38.3" r="0.65" fill="#5a5a62"/><circle cx="41.9" cy="38.9" r="0.6" fill="#5a5a62"/><circle cx="44.0" cy="38.8" r="0.6" fill="#8a8a92"/><circle cx="-1.0" cy="38.9" r="0.65" fill="#5a5a62"/><circle cx="47.0" cy="38.9" r="0.65" fill="#5a5a62"/><circle cx="95.0" cy="38.9" r="0.65" fill="#5a5a62"/><circle cx="-47.7" cy="40.9" r="0.55" fill="#70707a"/><circle cx="0.3" cy="40.9" r="0.55" fill="#70707a"/><circle cx="48.3" cy="40.9" r="0.55" fill="#70707a"/><circle cx="4.0" cy="41.8" r="0.65" fill="#70707a"/><circle cx="4.1" cy="40.7" r="0.6" fill="#5a5a62"/><circle cx="7.9" cy="41.7" r="0.55" fill="#5a5a62"/><circle cx="9.3" cy="40.2" r="0.6" fill="#70707a"/><circle cx="10.9" cy="42.0" r="0.55" fill="#5a5a62"/><circle cx="12.5" cy="41.5" r="0.55" fill="#8a8a92"/><circle cx="15.9" cy="40.4" r="0.65" fill="#5a5a62"/><circle cx="17.2" cy="41.1" r="0.65" fill="#8a8a92"/><circle cx="19.5" cy="40.8" r="0.6" fill="#70707a"/><circle cx="20.5" cy="40.4" r="0.65" fill="#5a5a62"/><circle cx="23.7" cy="40.6" r="0.65" fill="#70707a"/><circle cx="25.2" cy="40.2" r="0.6" fill="#70707a"/><circle cx="26.3" cy="40.2" r="0.65" fill="#8a8a92"/><circle cx="29.7" cy="40.3" r="0.65" fill="#8a8a92"/><circle cx="30.8" cy="40.9" r="0.55" fill="#8a8a92"/><circle cx="32.5" cy="41.2" r="0.65" fill="#70707a"/><circle cx="35.5" cy="41.7" r="0.55" fill="#5a5a62"/><circle cx="37.9" cy="40.2" r="0.6" fill="#70707a"/><circle cx="38.2" cy="41.1" r="0.65" fill="#8a8a92"/><circle cx="41.8" cy="41.1" r="0.6" fill="#5a5a62"/><circle cx="43.6" cy="41.3" r="0.55" fill="#8a8a92"/><circle cx="45.3" cy="40.3" r="0.6" fill="#70707a"/><circle cx="46.4" cy="40.6" r="0.6" fill="#8a8a92"/><circle cx="-48.0" cy="43.7" r="0.65" fill="#8a8a92"/><circle cx="0.0" cy="43.7" r="0.65" fill="#8a8a92"/><circle cx="48.0" cy="43.7" r="0.65" fill="#8a8a92"/><circle cx="3.2" cy="43.7" r="0.6" fill="#5a5a62"/><circle cx="6.4" cy="42.1" r="0.65" fill="#5a5a62"/><circle cx="9.5" cy="43.9" r="0.65" fill="#70707a"/><circle cx="10.3" cy="42.6" r="0.6" fill="#70707a"/><circle cx="13.6" cy="42.7" r="0.55" fill="#5a5a62"/><circle cx="15.1" cy="42.2" r="0.55" fill="#5a5a62"/><circle cx="17.2" cy="42.6" r="0.55" fill="#70707a"/><circle cx="19.3" cy="43.8" r="0.6" fill="#5a5a62"/><circle cx="20.5" cy="42.6" r="0.55" fill="#5a5a62"/><circle cx="23.6" cy="42.3" r="0.65" fill="#70707a"/><circle cx="27.9" cy="43.8" r="0.6" fill="#70707a"/><circle cx="29.7" cy="42.5" r="0.65" fill="#5a5a62"/><circle cx="32.0" cy="43.0" r="0.55" fill="#70707a"/><circle cx="33.8" cy="43.6" r="0.55" fill="#70707a"/><circle cx="35.7" cy="42.3" r="0.55" fill="#70707a"/><circle cx="36.3" cy="42.1" r="0.6" fill="#70707a"/><circle cx="39.9" cy="43.8" r="0.55" fill="#5a5a62"/><circle cx="43.9" cy="43.6" r="0.55" fill="#70707a"/><circle cx="44.4" cy="42.3" r="0.6" fill="#70707a"/><circle cx="2.7" cy="44.2" r="0.65" fill="#70707a"/><circle cx="5.8" cy="44.2" r="0.55" fill="#5a5a62"/><circle cx="6.5" cy="45.2" r="0.6" fill="#70707a"/><circle cx="9.7" cy="45.1" r="0.65" fill="#8a8a92"/><circle cx="12.0" cy="46.0" r="0.6" fill="#8a8a92"/><circle cx="13.6" cy="44.1" r="0.6" fill="#70707a"/><circle cx="17.6" cy="44.1" r="0.65" fill="#5a5a62"/><circle cx="19.6" cy="44.2" r="0.55" fill="#5a5a62"/><circle cx="20.8" cy="45.7" r="0.55" fill="#8a8a92"/><circle cx="26.3" cy="44.3" r="0.6" fill="#70707a"/><circle cx="29.6" cy="44.8" r="0.6" fill="#8a8a92"/><circle cx="31.4" cy="44.7" r="0.65" fill="#8a8a92"/><circle cx="35.1" cy="44.0" r="0.6" fill="#5a5a62"/><circle cx="36.4" cy="45.3" r="0.6" fill="#5a5a62"/><circle cx="39.8" cy="45.0" r="0.65" fill="#5a5a62"/><circle cx="41.5" cy="45.7" r="0.65" fill="#5a5a62"/><circle cx="42.6" cy="45.4" r="0.65" fill="#5a5a62"/><circle cx="45.7" cy="45.2" r="0.55" fill="#70707a"/><circle cx="46.8" cy="44.4" r="0.6" fill="#70707a"/><circle cx="-48.0" cy="46.1" r="0.55" fill="#5a5a62"/><circle cx="0.0" cy="46.1" r="0.55" fill="#5a5a62"/><circle cx="48.0" cy="46.1" r="0.55" fill="#5a5a62"/><circle cx="2.9" cy="-0.0" r="0.6" fill="#5a5a62"/><circle cx="2.9" cy="48.0" r="0.6" fill="#5a5a62"/><circle cx="2.9" cy="96.0" r="0.6" fill="#5a5a62"/><circle cx="4.6" cy="46.9" r="0.6" fill="#70707a"/><circle cx="6.2" cy="46.8" r="0.55" fill="#70707a"/><circle cx="8.5" cy="-0.7" r="0.65" fill="#70707a"/><circle cx="8.5" cy="47.3" r="0.65" fill="#70707a"/><circle cx="8.5" cy="95.3" r="0.65" fill="#70707a"/><circle cx="11.8" cy="46.7" r="0.55" fill="#8a8a92"/><circle cx="12.4" cy="-0.9" r="0.55" fill="#5a5a62"/><circle cx="12.4" cy="47.1" r="0.55" fill="#5a5a62"/><circle cx="12.4" cy="95.1" r="0.55" fill="#5a5a62"/><circle cx="14.2" cy="-0.0" r="0.55" fill="#70707a"/><circle cx="14.2" cy="48.0" r="0.55" fill="#70707a"/><circle cx="14.2" cy="96.0" r="0.55" fill="#70707a"/><circle cx="16.1" cy="46.3" r="0.55" fill="#5a5a62"/><circle cx="19.3" cy="-0.0" r="0.65" fill="#8a8a92"/><circle cx="19.3" cy="48.0" r="0.65" fill="#8a8a92"/><circle cx="19.3" cy="96.0" r="0.65" fill="#8a8a92"/><circle cx="23.2" cy="47.0" r="0.55" fill="#5a5a62"/><circle cx="24.8" cy="46.1" r="0.55" fill="#70707a"/><circle cx="26.5" cy="46.4" r="0.6" fill="#8a8a92"/><circle cx="29.9" cy="46.8" r="0.55" fill="#5a5a62"/><circle cx="33.1" cy="-0.8" r="0.55" fill="#70707a"/><circle cx="33.1" cy="47.2" r="0.55" fill="#70707a"/><circle cx="33.1" cy="95.2" r="0.55" fill="#70707a"/><circle cx="34.5" cy="-0.4" r="0.55" fill="#5a5a62"/><circle cx="34.5" cy="47.6" r="0.55" fill="#5a5a62"/><circle cx="34.5" cy="95.6" r="0.55" fill="#5a5a62"/><circle cx="37.5" cy="46.6" r="0.6" fill="#5a5a62"/><circle cx="39.0" cy="46.6" r="0.6" fill="#70707a"/><circle cx="41.6" cy="-0.6" r="0.65" fill="#8a8a92"/><circle cx="41.6" cy="47.4" r="0.65" fill="#8a8a92"/><circle cx="41.6" cy="95.4" r="0.65" fill="#8a8a92"/><circle cx="42.8" cy="-0.6" r="0.6" fill="#5a5a62"/><circle cx="42.8" cy="47.4" r="0.6" fill="#5a5a62"/><circle cx="42.8" cy="95.4" r="0.6" fill="#5a5a62"/><circle cx="45.4" cy="-0.0" r="0.6" fill="#8a8a92"/><circle cx="45.4" cy="48.0" r="0.6" fill="#8a8a92"/><circle cx="45.4" cy="96.0" r="0.6" fill="#8a8a92"/><circle cx="46.9" cy="46.7" r="0.6" fill="#70707a"/>
</pattern>
<clipPath id="sub"><rect x="385" y="249.8" width="500" height="400"/></clipPath>
</defs>
<rect width="864" height="609" fill="#f0f0f2"/>
<!-- mortar / grout -->
<g>
<rect x="268" y="90" width="600" height="150" fill="url(#st)"/>
<rect x="242" y="100" width="30" height="140" fill="url(#st)"/>
<rect x="225" y="230" width="640" height="380" fill="url(#st)"/>
<rect x="269" y="90" width="20" height="72" fill="url(#gr)"/>
<rect x="242" y="100" width="28" height="62" fill="url(#gr)"/>
</g>
<!-- upper tile -->
<rect x="290.5" y="92" width="600" height="117" fill="#a5a6ab" stroke="#231f20" stroke-width="4"/>
<!-- left tile -->
<rect x="227" y="248.8" width="130" height="400" fill="#a5a6ab" stroke="#231f20" stroke-width="4"/>
<!-- substrate -->
<rect x="383.7" y="248.5" width="600" height="400" fill="#ffffff" stroke="#231f20" stroke-width="2.7"/>
<g clip-path="url(#sub)" stroke="#231f20" stroke-width="3.1" stroke-linecap="round"><line x1="381.2" y1="242.2" x2="393.7" y2="230.1"/><line x1="429.6" y1="242.2" x2="442.1" y2="230.1"/><line x1="478.0" y1="242.2" x2="490.5" y2="230.1"/><line x1="526.4" y1="242.2" x2="538.9" y2="230.1"/><line x1="574.8" y1="242.2" x2="587.3" y2="230.1"/><line x1="623.2" y1="242.2" x2="635.7" y2="230.1"/><line x1="671.6" y1="242.2" x2="684.1" y2="230.1"/><line x1="720.0" y1="242.2" x2="732.5" y2="230.1"/><line x1="768.4" y1="242.2" x2="780.9" y2="230.1"/><line x1="816.8" y1="242.2" x2="829.3" y2="230.1"/><line x1="865.2" y1="242.2" x2="877.7" y2="230.1"/><line x1="405.4" y1="266.4" x2="417.9" y2="254.3"/><line x1="381.2" y1="290.6" x2="393.7" y2="278.5"/><line x1="453.8" y1="266.4" x2="466.3" y2="254.3"/><line x1="429.6" y1="290.6" x2="442.1" y2="278.5"/><line x1="502.2" y1="266.4" x2="514.7" y2="254.3"/><line x1="478.0" y1="290.6" x2="490.5" y2="278.5"/><line x1="550.6" y1="266.4" x2="563.1" y2="254.3"/><line x1="526.4" y1="290.6" x2="538.9" y2="278.5"/><line x1="599.0" y1="266.4" x2="611.5" y2="254.3"/><line x1="574.8" y1="290.6" x2="587.3" y2="278.5"/><line x1="647.4" y1="266.4" x2="659.9" y2="254.3"/><line x1="623.2" y1="290.6" x2="635.7" y2="278.5"/><line x1="695.8" y1="266.4" x2="708.3" y2="254.3"/><line x1="671.6" y1="290.6" x2="684.1" y2="278.5"/><line x1="744.2" y1="266.4" x2="756.7" y2="254.3"/><line x1="720.0" y1="290.6" x2="732.5" y2="278.5"/><line x1="792.6" y1="266.4" x2="805.1" y2="254.3"/><line x1="768.4" y1="290.6" x2="780.9" y2="278.5"/><line x1="841.0" y1="266.4" x2="853.5" y2="254.3"/><line x1="816.8" y1="290.6" x2="829.3" y2="278.5"/><line x1="865.2" y1="290.6" x2="877.7" y2="278.5"/><line x1="405.4" y1="314.8" x2="417.9" y2="302.7"/><line x1="381.2" y1="339.0" x2="393.7" y2="326.9"/><line x1="453.8" y1="314.8" x2="466.3" y2="302.7"/><line x1="429.6" y1="339.0" x2="442.1" y2="326.9"/><line x1="502.2" y1="314.8" x2="514.7" y2="302.7"/><line x1="478.0" y1="339.0" x2="490.5" y2="326.9"/><line x1="550.6" y1="314.8" x2="563.1" y2="302.7"/><line x1="526.4" y1="339.0" x2="538.9" y2="326.9"/><line x1="599.0" y1="314.8" x2="611.5" y2="302.7"/><line x1="574.8" y1="339.0" x2="587.3" y2="326.9"/><line x1="647.4" y1="314.8" x2="659.9" y2="302.7"/><line x1="623.2" y1="339.0" x2="635.7" y2="326.9"/><line x1="695.8" y1="314.8" x2="708.3" y2="302.7"/><line x1="671.6" y1="339.0" x2="684.1" y2="326.9"/><line x1="744.2" y1="314.8" x2="756.7" y2="302.7"/><line x1="720.0" y1="339.0" x2="732.5" y2="326.9"/><line x1="792.6" y1="314.8" x2="805.1" y2="302.7"/><line x1="768.4" y1="339.0" x2="780.9" y2="326.9"/><line x1="841.0" y1="314.8" x2="853.5" y2="302.7"/><line x1="816.8" y1="339.0" x2="829.3" y2="326.9"/><line x1="865.2" y1="339.0" x2="877.7" y2="326.9"/><line x1="405.4" y1="363.2" x2="417.9" y2="351.1"/><line x1="381.2" y1="387.4" x2="393.7" y2="375.3"/><line x1="453.8" y1="363.2" x2="466.3" y2="351.1"/><line x1="429.6" y1="387.4" x2="442.1" y2="375.3"/><line x1="502.2" y1="363.2" x2="514.7" y2="351.1"/><line x1="478.0" y1="387.4" x2="490.5" y2="375.3"/><line x1="550.6" y1="363.2" x2="563.1" y2="351.1"/><line x1="526.4" y1="387.4" x2="538.9" y2="375.3"/><line x1="599.0" y1="363.2" x2="611.5" y2="351.1"/><line x1="574.8" y1="387.4" x2="587.3" y2="375.3"/><line x1="647.4" y1="363.2" x2="659.9" y2="351.1"/><line x1="623.2" y1="387.4" x2="635.7" y2="375.3"/><line x1="695.8" y1="363.2" x2="708.3" y2="351.1"/><line x1="671.6" y1="387.4" x2="684.1" y2="375.3"/><line x1="744.2" y1="363.2" x2="756.7" y2="351.1"/><line x1="720.0" y1="387.4" x2="732.5" y2="375.3"/><line x1="792.6" y1="363.2" x2="805.1" y2="351.1"/><line x1="768.4" y1="387.4" x2="780.9" y2="375.3"/><line x1="841.0" y1="363.2" x2="853.5" y2="351.1"/><line x1="816.8" y1="387.4" x2="829.3" y2="375.3"/><line x1="865.2" y1="387.4" x2="877.7" y2="375.3"/><line x1="405.4" y1="411.6" x2="417.9" y2="399.5"/><line x1="381.2" y1="435.8" x2="393.7" y2="423.7"/><line x1="453.8" y1="411.6" x2="466.3" y2="399.5"/><line x1="429.6" y1="435.8" x2="442.1" y2="423.7"/><line x1="502.2" y1="411.6" x2="514.7" y2="399.5"/><line x1="478.0" y1="435.8" x2="490.5" y2="423.7"/><line x1="550.6" y1="411.6" x2="563.1" y2="399.5"/><line x1="526.4" y1="435.8" x2="538.9" y2="423.7"/><line x1="599.0" y1="411.6" x2="611.5" y2="399.5"/><line x1="574.8" y1="435.8" x2="587.3" y2="423.7"/><line x1="647.4" y1="411.6" x2="659.9" y2="399.5"/><line x1="623.2" y1="435.8" x2="635.7" y2="423.7"/><line x1="695.8" y1="411.6" x2="708.3" y2="399.5"/><line x1="671.6" y1="435.8" x2="684.1" y2="423.7"/><line x1="744.2" y1="411.6" x2="756.7" y2="399.5"/><line x1="720.0" y1="435.8" x2="732.5" y2="423.7"/><line x1="792.6" y1="411.6" x2="805.1" y2="399.5"/><line x1="768.4" y1="435.8" x2="780.9" y2="423.7"/><line x1="841.0" y1="411.6" x2="853.5" y2="399.5"/><line x1="816.8" y1="435.8" x2="829.3" y2="423.7"/><line x1="865.2" y1="435.8" x2="877.7" y2="423.7"/><line x1="405.4" y1="460.0" x2="417.9" y2="447.9"/><line x1="381.2" y1="484.2" x2="393.7" y2="472.1"/><line x1="453.8" y1="460.0" x2="466.3" y2="447.9"/><line x1="429.6" y1="484.2" x2="442.1" y2="472.1"/><line x1="502.2" y1="460.0" x2="514.7" y2="447.9"/><line x1="478.0" y1="484.2" x2="490.5" y2="472.1"/><line x1="550.6" y1="460.0" x2="563.1" y2="447.9"/><line x1="526.4" y1="484.2" x2="538.9" y2="472.1"/><line x1="599.0" y1="460.0" x2="611.5" y2="447.9"/><line x1="574.8" y1="484.2" x2="587.3" y2="472.1"/><line x1="647.4" y1="460.0" x2="659.9" y2="447.9"/><line x1="623.2" y1="484.2" x2="635.7" y2="472.1"/><line x1="695.8" y1="460.0" x2="708.3" y2="447.9"/><line x1="671.6" y1="484.2" x2="684.1" y2="472.1"/><line x1="744.2" y1="460.0" x2="756.7" y2="447.9"/><line x1="720.0" y1="484.2" x2="732.5" y2="472.1"/><line x1="792.6" y1="460.0" x2="805.1" y2="447.9"/><line x1="768.4" y1="484.2" x2="780.9" y2="472.1"/><line x1="841.0" y1="460.0" x2="853.5" y2="447.9"/><line x1="816.8" y1="484.2" x2="829.3" y2="472.1"/><line x1="865.2" y1="484.2" x2="877.7" y2="472.1"/><line x1="405.4" y1="508.4" x2="417.9" y2="496.3"/><line x1="381.2" y1="532.6" x2="393.7" y2="520.5"/><line x1="453.8" y1="508.4" x2="466.3" y2="496.3"/><line x1="429.6" y1="532.6" x2="442.1" y2="520.5"/><line x1="502.2" y1="508.4" x2="514.7" y2="496.3"/><line x1="478.0" y1="532.6" x2="490.5" y2="520.5"/><line x1="550.6" y1="508.4" x2="563.1" y2="496.3"/><line x1="526.4" y1="532.6" x2="538.9" y2="520.5"/><line x1="599.0" y1="508.4" x2="611.5" y2="496.3"/><line x1="574.8" y1="532.6" x2="587.3" y2="520.5"/><line x1="647.4" y1="508.4" x2="659.9" y2="496.3"/><line x1="623.2" y1="532.6" x2="635.7" y2="520.5"/><line x1="695.8" y1="508.4" x2="708.3" y2="496.3"/><line x1="671.6" y1="532.6" x2="684.1" y2="520.5"/><line x1="744.2" y1="508.4" x2="756.7" y2="496.3"/><line x1="720.0" y1="532.6" x2="732.5" y2="520.5"/><line x1="792.6" y1="508.4" x2="805.1" y2="496.3"/><line x1="768.4" y1="532.6" x2="780.9" y2="520.5"/><line x1="841.0" y1="508.4" x2="853.5" y2="496.3"/><line x1="816.8" y1="532.6" x2="829.3" y2="520.5"/><line x1="865.2" y1="532.6" x2="877.7" y2="520.5"/><line x1="405.4" y1="556.8" x2="417.9" y2="544.7"/><line x1="381.2" y1="581.0" x2="393.7" y2="568.9"/><line x1="453.8" y1="556.8" x2="466.3" y2="544.7"/><line x1="429.6" y1="581.0" x2="442.1" y2="568.9"/><line x1="502.2" y1="556.8" x2="514.7" y2="544.7"/><line x1="478.0" y1="581.0" x2="490.5" y2="568.9"/><line x1="550.6" y1="556.8" x2="563.1" y2="544.7"/><line x1="526.4" y1="581.0" x2="538.9" y2="568.9"/><line x1="599.0" y1="556.8" x2="611.5" y2="544.7"/><line x1="574.8" y1="581.0" x2="587.3" y2="568.9"/><line x1="647.4" y1="556.8" x2="659.9" y2="544.7"/><line x1="623.2" y1="581.0" x2="635.7" y2="568.9"/><line x1="695.8" y1="556.8" x2="708.3" y2="544.7"/><line x1="671.6" y1="581.0" x2="684.1" y2="568.9"/><line x1="744.2" y1="556.8" x2="756.7" y2="544.7"/><line x1="720.0" y1="581.0" x2="732.5" y2="568.9"/><line x1="792.6" y1="556.8" x2="805.1" y2="544.7"/><line x1="768.4" y1="581.0" x2="780.9" y2="568.9"/><line x1="841.0" y1="556.8" x2="853.5" y2="544.7"/><line x1="816.8" y1="581.0" x2="829.3" y2="568.9"/><line x1="865.2" y1="581.0" x2="877.7" y2="568.9"/><line x1="405.4" y1="605.2" x2="417.9" y2="593.1"/><line x1="381.2" y1="629.4" x2="393.7" y2="617.3"/><line x1="453.8" y1="605.2" x2="466.3" y2="593.1"/><line x1="429.6" y1="629.4" x2="442.1" y2="617.3"/><line x1="502.2" y1="605.2" x2="514.7" y2="593.1"/><line x1="478.0" y1="629.4" x2="490.5" y2="617.3"/><line x1="550.6" y1="605.2" x2="563.1" y2="593.1"/><line x1="526.4" y1="629.4" x2="538.9" y2="617.3"/><line x1="599.0" y1="605.2" x2="611.5" y2="593.1"/><line x1="574.8" y1="629.4" x2="587.3" y2="617.3"/><line x1="647.4" y1="605.2" x2="659.9" y2="593.1"/><line x1="623.2" y1="629.4" x2="635.7" y2="617.3"/><line x1="695.8" y1="605.2" x2="708.3" y2="593.1"/><line x1="671.6" y1="629.4" x2="684.1" y2="617.3"/><line x1="744.2" y1="605.2" x2="756.7" y2="593.1"/><line x1="720.0" y1="629.4" x2="732.5" y2="617.3"/><line x1="792.6" y1="605.2" x2="805.1" y2="593.1"/><line x1="768.4" y1="629.4" x2="780.9" y2="617.3"/><line x1="841.0" y1="605.2" x2="853.5" y2="593.1"/><line x1="816.8" y1="629.4" x2="829.3" y2="617.3"/><line x1="865.2" y1="629.4" x2="877.7" y2="617.3"/></g>
<rect x="434" y="275.3" width="394" height="48" fill="#fff"/>
<rect x="640" y="465" width="206" height="125" fill="#fff"/>
<!-- profile -->
<path d="M 270,92.2 L 270,117.4 L 263.5,117.4 C 261,113.5 255.5,112.6 252,115.5 C 249.5,117.5 248.2,120 248.2,123 L 248.2,147.5 Q 248.2,152 252.5,152.3 L 279,154 A 5.6,5.6 0 0 1 279,165.3 L 254.5,164.8 Q 250.2,164.8 250.2,169 L 250.2,200.8 A 22,22 0 0 0 272.2,222.8 L 555,222.8 L 555,236.5 L 226,236.5 L 233.4,108.5 A 14.5,14.5 0 0 1 248,93.8 Z" fill="#f5821f" stroke="#2a1c14" stroke-width="1.5" stroke-linejoin="round"/>
<!-- grout leader -->
<path d="M 278.6,113.8 L 278.6,60.7 L 301.6,60.7" fill="none" stroke="#231f20" stroke-width="2.6" stroke-linecap="round"/>
<!-- labels -->
<g stroke="#231f20" stroke-width="0.7">
<text x="307.5" y="72.5" font-size="29.7" textLength="112" lengthAdjust="spacing">GROUT</text>
<text x="71.2" y="166.3" font-size="29.7" textLength="134.5" lengthAdjust="spacing">PROFILE</text>
<text x="549.2" y="166.3" font-size="29.7" textLength="68" lengthAdjust="spacing">TILE</text>
<text x="617" y="240.4" font-size="29.7" textLength="126.5" lengthAdjust="spacing">MORTAR</text>
<text x="443.8" y="308.4" font-size="29.7" textLength="374.5" lengthAdjust="spacing">SUBSTRATE/SUBFLOOR</text>
<text x="254.6" y="308.4" font-size="29.7" textLength="67.5" lengthAdjust="spacing">TILE</text>
</g>
<!-- logo -->
<path d="M 650,480.2 L 832.4,480.2 L 832.4,490.7 L 691.4,490.7 L 691.4,527.6 L 650,527.6 Z" fill="#a7a9ac" stroke="#404042" stroke-width="1.2"/>
<path d="M 791,532.5 L 832.6,532.5 L 832.6,580 L 650.2,580 L 650.2,568.6 L 791,568.6 Z" fill="#f7941d" stroke="#6b3a10" stroke-width="1.2"/>
<g stroke="#231f20" stroke-width="0.35">
<text x="700" y="528" font-size="34" font-weight="bold" textLength="133.5" lengthAdjust="spacing">Schluter</text>
<text x="648" y="556.2" font-size="34" font-weight="bold" textLength="134" lengthAdjust="spacing">Systems</text>
</g>
<circle cx="828.2" cy="500.2" r="5.8" fill="none" stroke="#555" stroke-width="1"/>
<text x="825.0" y="504.0" font-size="9" style="fill:#444">R</text>
</svg>
</body></html>
